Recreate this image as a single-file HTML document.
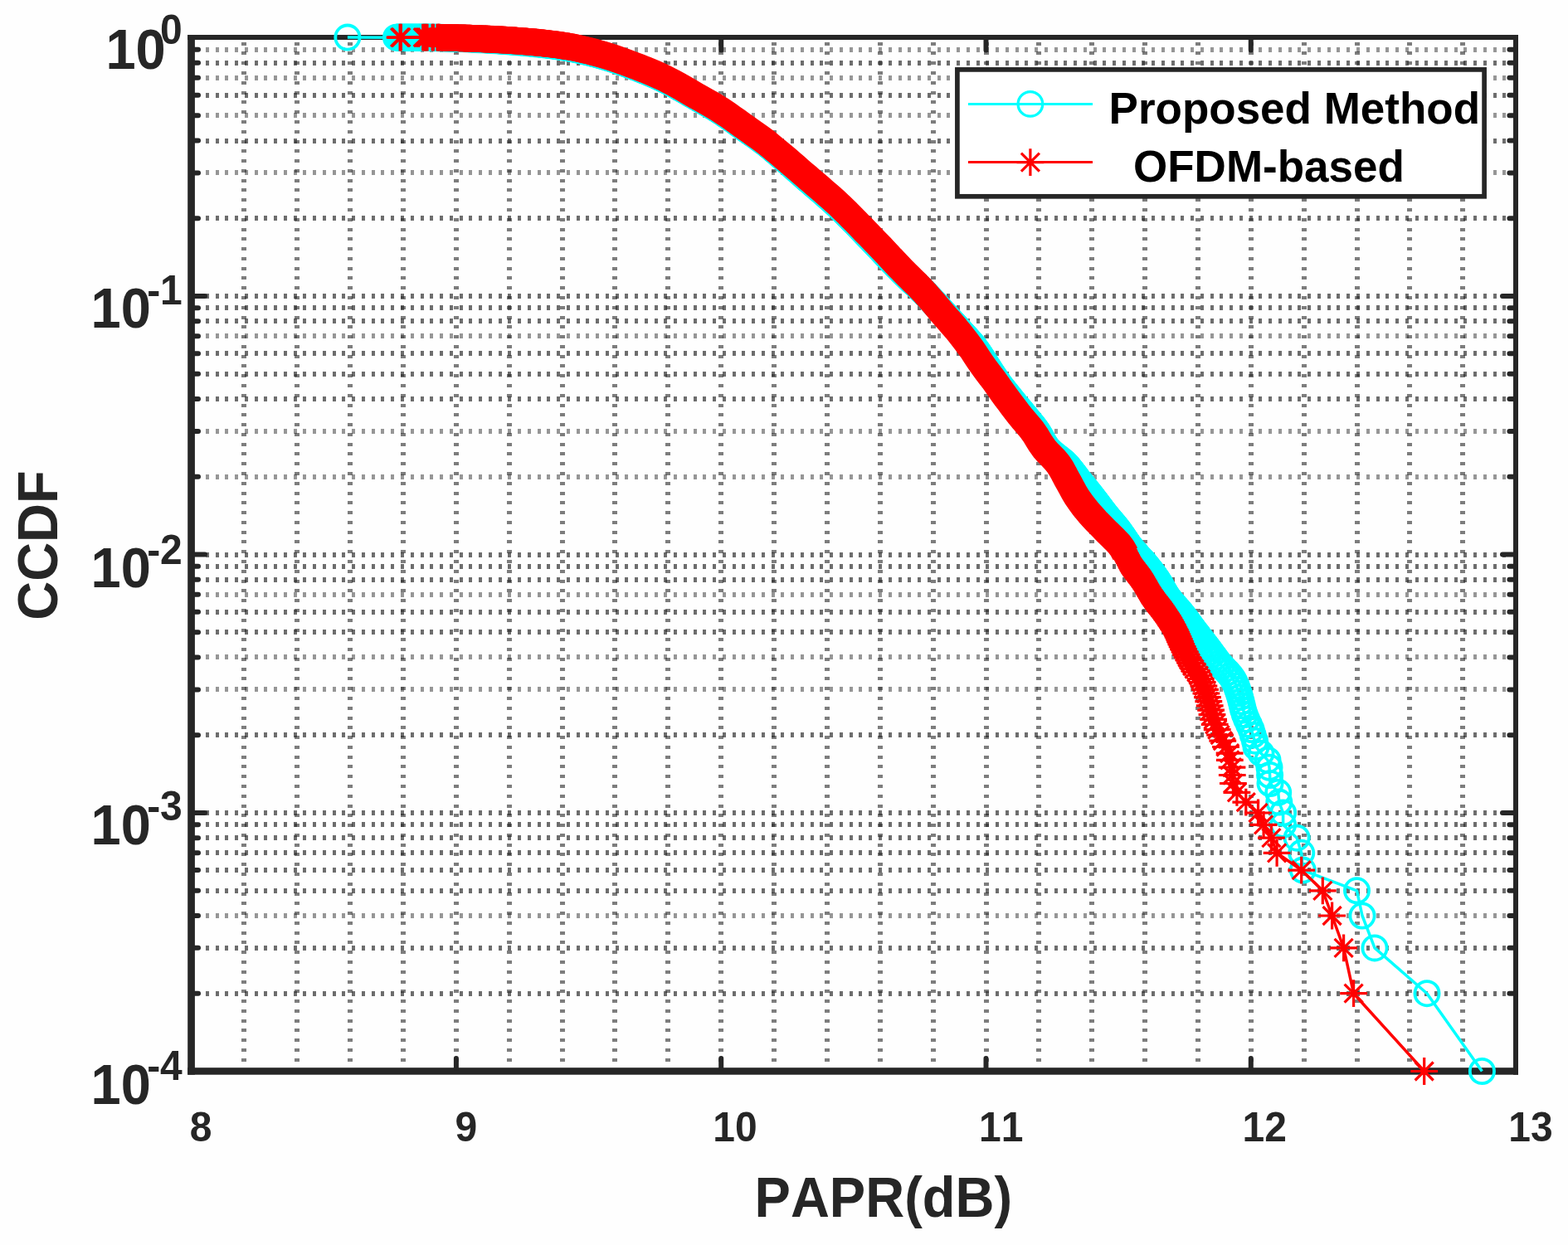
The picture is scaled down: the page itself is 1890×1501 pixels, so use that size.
<!DOCTYPE html>
<html lang="en"><head><meta charset="utf-8"><title>CCDF of PAPR</title>
<style>html,body{margin:0;padding:0;background:#fff;overflow:hidden}svg{display:block}text{font-family:"Liberation Sans",Arial,Helvetica,sans-serif;font-weight:bold;font-kerning:none}</style></head>
<body>
<svg width="1890" height="1501" viewBox="0 0 1890 1501">
<rect width="1890" height="1501" fill="#fefefe"/>
<g stroke="#262626" stroke-opacity="0.67" stroke-width="6" fill="none" shape-rendering="crispEdges">
<path d="M247.9 357.07H1822M247.9 263.31H1822M247.9 169.55H1822M247.9 114.70H1822M247.9 75.78H1822M247.9 668.54H1822M247.9 481.02H1822M247.9 450.83H1822M247.9 426.17H1822M247.9 387.25H1822M247.9 371.32H1822M247.9 980.01H1822M247.9 886.25H1822M247.9 762.30H1822M247.9 737.64H1822M247.9 698.72H1822M247.9 682.79H1822M247.9 1197.72H1822M247.9 1142.87H1822M247.9 1073.77H1822M247.9 1049.11H1822M247.9 1028.26H1822M247.9 1010.19H1822M247.9 994.26H1822" stroke-dasharray="4 7.755"/>
<path d="M247.9 208.46H1822M247.9 139.36H1822M247.9 93.85H1822M247.9 59.85H1822M247.9 574.78H1822M247.9 519.93H1822M247.9 405.32H1822M247.9 831.40H1822M247.9 792.49H1822M247.9 716.79H1822M247.9 1103.96H1822" stroke-dasharray="4 7.755" stroke-opacity="0.48"/>
<path d="M294.46 50.7V1286M358.32 50.7V1286M422.18 50.7V1286M486.04 50.7V1286M549.90 50.7V1286M613.76 50.7V1286M677.62 50.7V1286M741.48 50.7V1286M805.34 50.7V1286M869.20 50.7V1286M933.06 50.7V1286M996.92 50.7V1286M1060.78 50.7V1286M1124.64 50.7V1286M1188.50 50.7V1286M1252.36 50.7V1286M1316.22 50.7V1286M1380.08 50.7V1286M1443.94 50.7V1286M1507.80 50.7V1286M1571.66 50.7V1286M1635.52 50.7V1286M1699.38 50.7V1286M1763.24 50.7V1286" stroke-dasharray="4 7.78" stroke-opacity="0.6"/>
</g>
<g fill="#262626" stroke="none">
<rect x="226.2" y="42" width="8.7" height="1253.7"/>
<rect x="226.2" y="1287.2" width="1603.8" height="8.5"/>
<rect x="226.2" y="42" width="1603.8" height="6"/>
<rect x="1824" y="42" width="6" height="1253.7"/>
</g>
<g stroke="#262626" stroke-width="6" stroke-linecap="round" fill="none">
<path d="M549.90 1288V1276M549.90 48V60.5M869.20 1288V1276M869.20 48V60.5M1188.50 1288V1276M1188.50 48V60.5M1507.80 1288V1276M1507.80 48V60.5M234 357.07H247M1825 357.07H1811M234 263.31H239M1825 263.31H1819.4M234 208.46H239M1825 208.46H1819.4M234 169.55H239M1825 169.55H1819.4M234 139.36H239M1825 139.36H1819.4M234 114.70H239M1825 114.70H1819.4M234 93.85H239M1825 93.85H1819.4M234 75.78H239M1825 75.78H1819.4M234 59.85H239M1825 59.85H1819.4M234 668.54H247M1825 668.54H1811M234 574.78H239M1825 574.78H1819.4M234 519.93H239M1825 519.93H1819.4M234 481.02H239M1825 481.02H1819.4M234 450.83H239M1825 450.83H1819.4M234 426.17H239M1825 426.17H1819.4M234 405.32H239M1825 405.32H1819.4M234 387.25H239M1825 387.25H1819.4M234 371.32H239M1825 371.32H1819.4M234 980.01H247M1825 980.01H1811M234 886.25H239M1825 886.25H1819.4M234 831.40H239M1825 831.40H1819.4M234 792.49H239M1825 792.49H1819.4M234 762.30H239M1825 762.30H1819.4M234 737.64H239M1825 737.64H1819.4M234 716.79H239M1825 716.79H1819.4M234 698.72H239M1825 698.72H1819.4M234 682.79H239M1825 682.79H1819.4M234 1197.72H239M1825 1197.72H1819.4M234 1142.87H239M1825 1142.87H1819.4M234 1103.96H239M1825 1103.96H1819.4M234 1073.77H239M1825 1073.77H1819.4M234 1049.11H239M1825 1049.11H1819.4M234 1028.26H239M1825 1028.26H1819.4M234 1010.19H239M1825 1010.19H1819.4M234 994.26H239M1825 994.26H1819.4"/>
</g>
<defs><circle id="o" r="14.6" fill="none" stroke="#0ff" stroke-width="3.8"/><path id="a" d="M-16.4 0h32.8M0-16.4v32.8M-11-11l22 22M-11 11l22-22" fill="none" stroke="#f00" stroke-width="3.2"/></defs>
<g fill="none" stroke="#0ff" stroke-linejoin="round">
<path d="M477.5 45.2 483.9 45.2 490.3 45.2 496.7 45.2 503.1 45.3 509.5 45.3 515.9 45.3 522.3 45.4 528.7 45.5 535.1 45.7 541.5 45.9 547.9 46.1 554.3 46.3 560.7 46.5 567.1 46.8 573.5 47.1 579.9 47.4 586.2 47.8 592.6 48.2 599 48.6 605.4 49.1 611.8 49.5 618.2 50 624.6 50.5 630.9 51 637.3 51.5 643.7 52.2 650 52.8 656.4 53.5 662.8 54.3 669.1 55.1 675.4 56 681.8 57 688.1 58.1 694.4 59.3 700.6 60.7 706.8 62.2 713 63.7 719.2 65.3 725.4 67 731.6 68.8 737.7 70.7 743.7 72.7 749.8 74.8 755.8 77 761.8 79.2 767.8 81.4 773.8 83.8 779.7 86.2 785.6 88.7 791.5 91.2 797.3 93.9 803 96.7 808.7 99.6 814.4 102.6 820 105.8 825.5 108.9 831 112.1 836.6 115.4 842.2 118.5 847.7 121.7 853.3 124.8 858.8 128 864.3 131.3 869.7 134.7 875 138.3 880.3 141.9 885.5 145.6 890.7 149.4 895.9 153.1 901.1 156.8 906.4 160.5 911.7 164.1 916.9 167.9 922 171.7 927 175.7 931.9 179.7 936.8 183.8 941.7 188 946.5 192.2 951.3 196.4 956.1 200.7 960.9 205 965.7 209.2 970.5 213.5 975.3 217.7 980.1 221.8 985 226 989.9 230.1 994.7 234.3 999.5 238.5 1004.3 242.8 1009 247.1 1013.7 251.5 1018.3 256 1022.8 260.5 1027.3 265 1031.8 269.6 1036.2 274.2 1040.7 278.8 1045.1 283.4 1049.6 288 1054 292.6 1058.4 297.3 1062.8 301.9 1067.2 306.6 1071.6 311.2 1076 315.8 1080.5 320.4 1085 325 1089.5 329.5 1094.1 334 1098.8 338.3 1103.6 342.6 1108.3 346.9 1112.9 351.4 1117.3 356 1121.7 360.6 1126.1 365.3 1130.4 370 1134.7 374.8 1139 379.5 1143.4 384.2 1147.8 388.9 1152.1 393.5 1156.4 398.3 1160.7 403 1165.1 407.7 1169.3 412.5 1173.5 417.4 1177.3 422.5 1180.9 427.8 1184.4 433.2 1187.8 438.5 1191.3 443.9 1194.8 449.3 1198.3 454.6 1201.9 459.9 1205.7 465.1 1209.6 470.1 1213.6 475.1 1217.6 480.1 1221.7 485.1 1225.7 490 1229.8 494.9 1233.9 499.9 1238 504.8 1242.1 509.7 1246.1 514.7 1249.9 519.9 1253.2 525.3 1256.3 531 1259.5 536.5 1263.4 541.6 1268 546 1273 550 1278 553.9 1282.9 558.1 1287.3 562.7 1291.3 567.7 1295.2 572.8 1299.1 577.9 1303.1 582.9 1307.1 587.8 1311.1 592.8 1315.1 597.8 1319 602.9 1322.9 608 1326.7 613.1 1330.6 618.2 1334.6 623.2 1338.7 628.1 1342.9 633 1346.9 637.9 1350.7 643.1 1354.3 648.4 1357.9 653.7 1361.6 658.9 1365.7 663.8 1370 668.5 1370 668.5" stroke-width="33.6"/>
<path d="M418.9 45.1 477.5 45.2 482.3 45.2 487.1 45.2 491.9 45.2 496.7 45.2 501.5 45.3 506.3 45.3 511.1 45.3 515.9 45.3 520.7 45.4 525.5 45.5 530.3 45.6 535.1 45.7 539.9 45.8 544.7 46 549.5 46.1 554.3 46.3 559.1 46.5 563.9 46.6 568.7 46.9 573.5 47.1 578.3 47.4 583.1 47.6 587.8 47.9 592.6 48.2 597.4 48.5 602.2 48.8 607 49.2 611.8 49.5 616.6 49.8 621.4 50.2 626.2 50.6 630.9 51 635.7 51.4 640.5 51.8 645.3 52.3 650 52.8 654.8 53.3 659.6 53.9 664.4 54.5 669.1 55.1 673.9 55.8 678.6 56.5 683.3 57.3 688.1 58.1 692.8 59 697.5 60 702.2 61.1 706.8 62.2 711.5 63.3 716.1 64.5 720.8 65.7 725.4 67 730 68.3 734.6 69.7 739.2 71.2 743.7 72.7 748.3 74.3 752.8 75.9 757.3 77.5 761.8 79.2 766.3 80.9 770.8 82.6 775.3 84.4 779.7 86.2 784.1 88 788.5 89.9 792.9 91.9 797.3 93.9 801.6 96 805.9 98.1 810.2 100.3 814.4 102.6 818.6 105 822.7 107.3 826.9 109.7 831 112.1 835.2 114.6 839.4 116.9 843.5 119.3 847.7 121.7 851.9 124 856.1 126.4 860.2 128.8 864.3 131.3 868.4 133.9 872.4 136.5 876.4 139.2 880.3 141.9 884.2 144.7 888.1 147.5 892 150.3 895.9 153.1 899.8 155.9 903.8 158.6 907.7 161.4 911.7 164.1 915.6 166.9 919.4 169.8 923.2 172.7 927 175.7 930.7 178.7 934.4 181.8 938.1 184.9 941.7 188 945.3 191.2 948.9 194.3 952.5 197.5 956.1 200.7 959.7 203.9 963.3 207.1 966.9 210.3 970.5 213.5 974.1 216.6 977.7 219.7 981.4 222.9 985 226 988.6 229.1 992.3 232.2 995.9 235.4 999.5 238.5 1003.1 241.7 1006.7 245 1010.2 248.2 1013.7 251.5 1017.1 254.9 1020.5 258.2 1023.9 261.6 1027.3 265 1030.7 268.5 1034 271.9 1037.3 275.4 1040.7 278.8 1044 282.3 1047.3 285.7 1050.7 289.2 1054 292.6 1057.3 296.1 1060.6 299.6 1063.9 303.1 1067.2 306.6 1070.5 310 1073.8 313.5 1077.2 317 1080.5 320.4 1083.8 323.9 1087.2 327.3 1090.7 330.6 1094.1 334 1097.7 337.2 1101.2 340.4 1104.8 343.7 1108.3 346.9 1111.7 350.2 1115.1 353.7 1118.5 357.1 1121.7 360.6 1125 364.1 1128.2 367.7 1131.5 371.2 1134.7 374.8 1137.9 378.3 1141.2 381.8 1144.5 385.3 1147.8 388.9 1151 392.4 1154.3 395.9 1157.5 399.5 1160.7 403 1164 406.5 1167.2 410.1 1170.4 413.7 1173.5 417.4 1176.4 421.2 1179.2 425.1 1181.8 429.1 1184.4 433.2 1187 437.2 1189.6 441.2 1192.2 445.2 1194.8 449.3 1197.4 453.3 1200.1 457.3 1202.9 461.2 1205.7 465.1 1208.7 468.9 1211.6 472.6 1214.6 476.4 1217.6 480.1 1220.6 483.9 1223.7 487.6 1226.8 491.3 1229.8 494.9 1232.9 498.6 1235.9 502.4 1239 506 1242.1 509.7 1245.1 513.5 1248 517.3 1250.8 521.2 1253.2 525.3 1255.5 529.5 1257.8 533.8 1260.4 537.8 1263.4 541.6 1266.8 544.9 1270.4 548 1274.2 551 1278 553.9 1281.7 557 1285.1 560.4 1288.3 564 1291.3 567.7 1294.3 571.5 1297.2 575.3 1300.1 579.1 1303.1 582.9 1306.1 586.6 1309.1 590.3 1312.1 594.1 1315.1 597.8 1318.1 601.6 1321 605.5 1323.8 609.3 1326.7 613.1 1329.6 617 1332.6 620.7 1335.6 624.4 1338.7 628.1 1341.8 631.8 1344.9 635.5 1347.9 639.2 1350.7 643.1 1353.5 647 1356.1 651 1358.8 655 1361.6 658.9 1364.7 662.6 1367.8 666.2 1370 668.5 1370 668.5 1371.3 669.9 1372.6 671.3 1373.9 672.7 1375.3 674.1 1376.6 675.5 1377.9 676.9 1379.1 678.4 1380.4 679.8 1381.6 681.3 1382.8 682.8 1384 684.3 1385.2 685.8 1386.4 687.4 1387.6 688.9 1388.8 690.5 1390 692.1 1391.1 693.7 1392.3 695.4 1393.5 697 1394.6 698.7 1395.8 700.4 1396.9 702.1 1397.9 703.9 1399 705.7 1400 707.5 1401 709.3 1402 711.1 1403.1 713 1404.2 714.9 1405.4 716.8 1406.6 718.7 1408 720.7 1409.5 722.7 1411.2 724.7 1412.9 726.8 1414.8 728.9 1416.7 731 1418.7 733.2 1420.6 735.4 1422.6 737.6 1424.4 739.9 1426.2 742.2 1428.1 744.6 1429.8 747 1431.7 749.4 1433.5 751.9 1435.3 754.4 1437.2 757 1439.2 759.6 1441.3 762.3 1443.4 765 1445.6 767.8 1447.8 770.7 1450 773.6 1452.4 776.6 1454.7 779.6 1457 782.7 1459.4 785.9 1461.8 789.1 1464.3 792.5 1466.8 795.9 1469.5 799.4 1472.6 803 1476.1 806.7 1479.8 810.5 1483.2 814.5 1486.1 818.5 1488.3 822.7 1490.2 827 1491.8 831.4 1493.3 836 1494.8 840.7 1496.1 845.7 1497.3 850.8 1498.6 856.1 1500.4 861.6 1502.7 867.3 1505.5 873.4 1508.2 879.6 1510.3 886.2 1512.5 893.2 1514 900.5 1520 908.2 1528 916.4 1530 925.2 1530.6 934.5 1531 944.5 1540.7 955.3 1541.8 967.1 1546.6 980 1546.6 994.3 1563.1 1010.2 1568.7 1028.3 1570.3 1049.1 1635.5 1073.8 1642 1104 1657 1142.9 1720 1197.7 1786.4 1291.5" stroke-width="3.5"/>
</g>
<g><use href="#o" x="418.9" y="45.1"/><use href="#o" x="477.5" y="45.2"/><use href="#o" x="479.1" y="45.2"/><use href="#o" x="480.7" y="45.2"/><use href="#o" x="482.3" y="45.2"/><use href="#o" x="483.9" y="45.2"/><use href="#o" x="485.5" y="45.2"/><use href="#o" x="487.1" y="45.2"/><use href="#o" x="488.7" y="45.2"/><use href="#o" x="490.3" y="45.2"/><use href="#o" x="491.9" y="45.2"/><use href="#o" x="493.5" y="45.2"/><use href="#o" x="495.1" y="45.2"/><use href="#o" x="496.7" y="45.2"/><use href="#o" x="498.3" y="45.2"/><use href="#o" x="499.9" y="45.2"/><use href="#o" x="501.5" y="45.3"/><use href="#o" x="503.1" y="45.3"/><use href="#o" x="504.7" y="45.3"/><use href="#o" x="506.3" y="45.3"/><use href="#o" x="507.9" y="45.3"/><use href="#o" x="509.5" y="45.3"/><use href="#o" x="511.1" y="45.3"/><use href="#o" x="512.7" y="45.3"/><use href="#o" x="514.3" y="45.3"/><use href="#o" x="515.9" y="45.3"/><use href="#o" x="517.5" y="45.3"/><use href="#o" x="519.1" y="45.4"/><use href="#o" x="520.7" y="45.4"/><use href="#o" x="522.3" y="45.4"/><use href="#o" x="523.9" y="45.4"/><use href="#o" x="525.5" y="45.5"/><use href="#o" x="527.1" y="45.5"/><use href="#o" x="528.7" y="45.5"/><use href="#o" x="530.3" y="45.6"/><use href="#o" x="531.9" y="45.6"/><use href="#o" x="533.5" y="45.7"/><use href="#o" x="535.1" y="45.7"/><use href="#o" x="536.7" y="45.7"/><use href="#o" x="538.3" y="45.8"/><use href="#o" x="539.9" y="45.8"/><use href="#o" x="541.5" y="45.9"/><use href="#o" x="543.1" y="45.9"/><use href="#o" x="544.7" y="46"/><use href="#o" x="546.3" y="46"/><use href="#o" x="547.9" y="46.1"/><use href="#o" x="549.5" y="46.1"/><use href="#o" x="551.1" y="46.2"/><use href="#o" x="552.7" y="46.2"/><use href="#o" x="554.3" y="46.3"/><use href="#o" x="555.9" y="46.4"/><use href="#o" x="557.5" y="46.4"/><use href="#o" x="559.1" y="46.5"/><use href="#o" x="560.7" y="46.5"/><use href="#o" x="562.3" y="46.6"/><use href="#o" x="563.9" y="46.6"/><use href="#o" x="565.5" y="46.7"/><use href="#o" x="567.1" y="46.8"/><use href="#o" x="568.7" y="46.9"/><use href="#o" x="570.3" y="46.9"/><use href="#o" x="571.9" y="47"/><use href="#o" x="573.5" y="47.1"/><use href="#o" x="575.1" y="47.2"/><use href="#o" x="576.7" y="47.3"/><use href="#o" x="578.3" y="47.4"/><use href="#o" x="579.9" y="47.4"/><use href="#o" x="581.5" y="47.5"/><use href="#o" x="583.1" y="47.6"/><use href="#o" x="584.7" y="47.7"/><use href="#o" x="586.2" y="47.8"/><use href="#o" x="587.8" y="47.9"/><use href="#o" x="589.4" y="48"/><use href="#o" x="591" y="48.1"/><use href="#o" x="592.6" y="48.2"/><use href="#o" x="594.2" y="48.3"/><use href="#o" x="595.8" y="48.4"/><use href="#o" x="597.4" y="48.5"/><use href="#o" x="599" y="48.6"/><use href="#o" x="600.6" y="48.7"/><use href="#o" x="602.2" y="48.8"/><use href="#o" x="603.8" y="48.9"/><use href="#o" x="605.4" y="49.1"/><use href="#o" x="607" y="49.2"/><use href="#o" x="608.6" y="49.3"/><use href="#o" x="610.2" y="49.4"/><use href="#o" x="611.8" y="49.5"/><use href="#o" x="613.4" y="49.6"/><use href="#o" x="615" y="49.7"/><use href="#o" x="616.6" y="49.8"/><use href="#o" x="618.2" y="50"/><use href="#o" x="619.8" y="50.1"/><use href="#o" x="621.4" y="50.2"/><use href="#o" x="623" y="50.3"/><use href="#o" x="624.6" y="50.5"/><use href="#o" x="626.2" y="50.6"/><use href="#o" x="627.7" y="50.7"/><use href="#o" x="629.3" y="50.8"/><use href="#o" x="630.9" y="51"/><use href="#o" x="632.5" y="51.1"/><use href="#o" x="634.1" y="51.3"/><use href="#o" x="635.7" y="51.4"/><use href="#o" x="637.3" y="51.5"/><use href="#o" x="638.9" y="51.7"/><use href="#o" x="640.5" y="51.8"/><use href="#o" x="642.1" y="52"/><use href="#o" x="643.7" y="52.2"/><use href="#o" x="645.3" y="52.3"/><use href="#o" x="646.9" y="52.5"/><use href="#o" x="648.5" y="52.6"/><use href="#o" x="650" y="52.8"/><use href="#o" x="651.6" y="53"/><use href="#o" x="653.2" y="53.2"/><use href="#o" x="654.8" y="53.3"/><use href="#o" x="656.4" y="53.5"/><use href="#o" x="658" y="53.7"/><use href="#o" x="659.6" y="53.9"/><use href="#o" x="661.2" y="54.1"/><use href="#o" x="662.8" y="54.3"/><use href="#o" x="664.4" y="54.5"/><use href="#o" x="665.9" y="54.7"/><use href="#o" x="667.5" y="54.9"/><use href="#o" x="669.1" y="55.1"/><use href="#o" x="670.7" y="55.3"/><use href="#o" x="672.3" y="55.5"/><use href="#o" x="673.9" y="55.8"/><use href="#o" x="675.4" y="56"/><use href="#o" x="677" y="56.2"/><use href="#o" x="678.6" y="56.5"/><use href="#o" x="680.2" y="56.7"/><use href="#o" x="681.8" y="57"/><use href="#o" x="683.3" y="57.3"/><use href="#o" x="684.9" y="57.5"/><use href="#o" x="686.5" y="57.8"/><use href="#o" x="688.1" y="58.1"/><use href="#o" x="689.6" y="58.4"/><use href="#o" x="691.2" y="58.7"/><use href="#o" x="692.8" y="59"/><use href="#o" x="694.4" y="59.3"/><use href="#o" x="695.9" y="59.7"/><use href="#o" x="697.5" y="60"/><use href="#o" x="699" y="60.4"/><use href="#o" x="700.6" y="60.7"/><use href="#o" x="702.2" y="61.1"/><use href="#o" x="703.7" y="61.4"/><use href="#o" x="705.3" y="61.8"/><use href="#o" x="706.8" y="62.2"/><use href="#o" x="708.4" y="62.5"/><use href="#o" x="709.9" y="62.9"/><use href="#o" x="711.5" y="63.3"/><use href="#o" x="713" y="63.7"/><use href="#o" x="714.6" y="64.1"/><use href="#o" x="716.1" y="64.5"/><use href="#o" x="717.7" y="64.9"/><use href="#o" x="719.2" y="65.3"/><use href="#o" x="720.8" y="65.7"/><use href="#o" x="722.3" y="66.1"/><use href="#o" x="723.9" y="66.6"/><use href="#o" x="725.4" y="67"/><use href="#o" x="727" y="67.4"/><use href="#o" x="728.5" y="67.9"/><use href="#o" x="730" y="68.3"/><use href="#o" x="731.6" y="68.8"/><use href="#o" x="733.1" y="69.3"/><use href="#o" x="734.6" y="69.7"/><use href="#o" x="736.1" y="70.2"/><use href="#o" x="737.7" y="70.7"/><use href="#o" x="739.2" y="71.2"/><use href="#o" x="740.7" y="71.7"/><use href="#o" x="742.2" y="72.2"/><use href="#o" x="743.7" y="72.7"/><use href="#o" x="745.3" y="73.3"/><use href="#o" x="746.8" y="73.8"/><use href="#o" x="748.3" y="74.3"/><use href="#o" x="749.8" y="74.8"/><use href="#o" x="751.3" y="75.4"/><use href="#o" x="752.8" y="75.9"/><use href="#o" x="754.3" y="76.4"/><use href="#o" x="755.8" y="77"/><use href="#o" x="757.3" y="77.5"/><use href="#o" x="758.8" y="78.1"/><use href="#o" x="760.3" y="78.6"/><use href="#o" x="761.8" y="79.2"/><use href="#o" x="763.3" y="79.7"/><use href="#o" x="764.8" y="80.3"/><use href="#o" x="766.3" y="80.9"/><use href="#o" x="767.8" y="81.4"/><use href="#o" x="769.3" y="82"/><use href="#o" x="770.8" y="82.6"/><use href="#o" x="772.3" y="83.2"/><use href="#o" x="773.8" y="83.8"/><use href="#o" x="775.3" y="84.4"/><use href="#o" x="776.7" y="85"/><use href="#o" x="778.2" y="85.6"/><use href="#o" x="779.7" y="86.2"/><use href="#o" x="781.2" y="86.8"/><use href="#o" x="782.7" y="87.4"/><use href="#o" x="784.1" y="88"/><use href="#o" x="785.6" y="88.7"/><use href="#o" x="787.1" y="89.3"/><use href="#o" x="788.5" y="89.9"/><use href="#o" x="790" y="90.6"/><use href="#o" x="791.5" y="91.2"/><use href="#o" x="792.9" y="91.9"/><use href="#o" x="794.4" y="92.6"/><use href="#o" x="795.8" y="93.2"/><use href="#o" x="797.3" y="93.9"/><use href="#o" x="798.7" y="94.6"/><use href="#o" x="800.2" y="95.3"/><use href="#o" x="801.6" y="96"/><use href="#o" x="803" y="96.7"/><use href="#o" x="804.5" y="97.4"/><use href="#o" x="805.9" y="98.1"/><use href="#o" x="807.3" y="98.9"/><use href="#o" x="808.7" y="99.6"/><use href="#o" x="810.2" y="100.3"/><use href="#o" x="811.6" y="101.1"/><use href="#o" x="813" y="101.9"/><use href="#o" x="814.4" y="102.6"/><use href="#o" x="815.8" y="103.4"/><use href="#o" x="817.2" y="104.2"/><use href="#o" x="818.6" y="105"/><use href="#o" x="820" y="105.8"/><use href="#o" x="821.3" y="106.6"/><use href="#o" x="822.7" y="107.3"/><use href="#o" x="824.1" y="108.1"/><use href="#o" x="825.5" y="108.9"/><use href="#o" x="826.9" y="109.7"/><use href="#o" x="828.3" y="110.5"/><use href="#o" x="829.7" y="111.3"/><use href="#o" x="831" y="112.1"/><use href="#o" x="832.4" y="113"/><use href="#o" x="833.8" y="113.8"/><use href="#o" x="835.2" y="114.6"/><use href="#o" x="836.6" y="115.4"/><use href="#o" x="838" y="116.1"/><use href="#o" x="839.4" y="116.9"/><use href="#o" x="840.8" y="117.7"/><use href="#o" x="842.2" y="118.5"/><use href="#o" x="843.5" y="119.3"/><use href="#o" x="844.9" y="120.1"/><use href="#o" x="846.3" y="120.9"/><use href="#o" x="847.7" y="121.7"/><use href="#o" x="849.1" y="122.4"/><use href="#o" x="850.5" y="123.2"/><use href="#o" x="851.9" y="124"/><use href="#o" x="853.3" y="124.8"/><use href="#o" x="854.7" y="125.6"/><use href="#o" x="856.1" y="126.4"/><use href="#o" x="857.5" y="127.2"/><use href="#o" x="858.8" y="128"/><use href="#o" x="860.2" y="128.8"/><use href="#o" x="861.6" y="129.7"/><use href="#o" x="863" y="130.5"/><use href="#o" x="864.3" y="131.3"/><use href="#o" x="865.7" y="132.2"/><use href="#o" x="867" y="133"/><use href="#o" x="868.4" y="133.9"/><use href="#o" x="869.7" y="134.7"/><use href="#o" x="871.1" y="135.6"/><use href="#o" x="872.4" y="136.5"/><use href="#o" x="873.7" y="137.4"/><use href="#o" x="875" y="138.3"/><use href="#o" x="876.4" y="139.2"/><use href="#o" x="877.7" y="140.1"/><use href="#o" x="879" y="141"/><use href="#o" x="880.3" y="141.9"/><use href="#o" x="881.6" y="142.9"/><use href="#o" x="882.9" y="143.8"/><use href="#o" x="884.2" y="144.7"/><use href="#o" x="885.5" y="145.6"/><use href="#o" x="886.8" y="146.6"/><use href="#o" x="888.1" y="147.5"/><use href="#o" x="889.4" y="148.4"/><use href="#o" x="890.7" y="149.4"/><use href="#o" x="892" y="150.3"/><use href="#o" x="893.3" y="151.2"/><use href="#o" x="894.6" y="152.2"/><use href="#o" x="895.9" y="153.1"/><use href="#o" x="897.2" y="154"/><use href="#o" x="898.5" y="155"/><use href="#o" x="899.8" y="155.9"/><use href="#o" x="901.1" y="156.8"/><use href="#o" x="902.5" y="157.7"/><use href="#o" x="903.8" y="158.6"/><use href="#o" x="905.1" y="159.6"/><use href="#o" x="906.4" y="160.5"/><use href="#o" x="907.7" y="161.4"/><use href="#o" x="909" y="162.3"/><use href="#o" x="910.3" y="163.2"/><use href="#o" x="911.7" y="164.1"/><use href="#o" x="913" y="165.1"/><use href="#o" x="914.3" y="166"/><use href="#o" x="915.6" y="166.9"/><use href="#o" x="916.9" y="167.9"/><use href="#o" x="918.1" y="168.8"/><use href="#o" x="919.4" y="169.8"/><use href="#o" x="920.7" y="170.7"/><use href="#o" x="922" y="171.7"/><use href="#o" x="923.2" y="172.7"/><use href="#o" x="924.5" y="173.7"/><use href="#o" x="925.7" y="174.7"/><use href="#o" x="927" y="175.7"/><use href="#o" x="928.2" y="176.7"/><use href="#o" x="929.5" y="177.7"/><use href="#o" x="930.7" y="178.7"/><use href="#o" x="931.9" y="179.7"/><use href="#o" x="933.2" y="180.8"/><use href="#o" x="934.4" y="181.8"/><use href="#o" x="935.6" y="182.8"/><use href="#o" x="936.8" y="183.8"/><use href="#o" x="938.1" y="184.9"/><use href="#o" x="939.3" y="185.9"/><use href="#o" x="940.5" y="187"/><use href="#o" x="941.7" y="188"/><use href="#o" x="942.9" y="189.1"/><use href="#o" x="944.1" y="190.1"/><use href="#o" x="945.3" y="191.2"/><use href="#o" x="946.5" y="192.2"/><use href="#o" x="947.7" y="193.3"/><use href="#o" x="948.9" y="194.3"/><use href="#o" x="950.1" y="195.4"/><use href="#o" x="951.3" y="196.4"/><use href="#o" x="952.5" y="197.5"/><use href="#o" x="953.7" y="198.6"/><use href="#o" x="954.9" y="199.6"/><use href="#o" x="956.1" y="200.7"/><use href="#o" x="957.3" y="201.8"/><use href="#o" x="958.5" y="202.8"/><use href="#o" x="959.7" y="203.9"/><use href="#o" x="960.9" y="205"/><use href="#o" x="962.1" y="206"/><use href="#o" x="963.3" y="207.1"/><use href="#o" x="964.5" y="208.2"/><use href="#o" x="965.7" y="209.2"/><use href="#o" x="966.9" y="210.3"/><use href="#o" x="968.1" y="211.3"/><use href="#o" x="969.3" y="212.4"/><use href="#o" x="970.5" y="213.5"/><use href="#o" x="971.7" y="214.5"/><use href="#o" x="972.9" y="215.6"/><use href="#o" x="974.1" y="216.6"/><use href="#o" x="975.3" y="217.7"/><use href="#o" x="976.5" y="218.7"/><use href="#o" x="977.7" y="219.7"/><use href="#o" x="978.9" y="220.8"/><use href="#o" x="980.1" y="221.8"/><use href="#o" x="981.4" y="222.9"/><use href="#o" x="982.6" y="223.9"/><use href="#o" x="983.8" y="225"/><use href="#o" x="985" y="226"/><use href="#o" x="986.2" y="227"/><use href="#o" x="987.4" y="228.1"/><use href="#o" x="988.6" y="229.1"/><use href="#o" x="989.9" y="230.1"/><use href="#o" x="991.1" y="231.2"/><use href="#o" x="992.3" y="232.2"/><use href="#o" x="993.5" y="233.3"/><use href="#o" x="994.7" y="234.3"/><use href="#o" x="995.9" y="235.4"/><use href="#o" x="997.1" y="236.4"/><use href="#o" x="998.3" y="237.5"/><use href="#o" x="999.5" y="238.5"/><use href="#o" x="1000.7" y="239.6"/><use href="#o" x="1001.9" y="240.7"/><use href="#o" x="1003.1" y="241.7"/><use href="#o" x="1004.3" y="242.8"/><use href="#o" x="1005.5" y="243.9"/><use href="#o" x="1006.7" y="245"/><use href="#o" x="1007.9" y="246"/><use href="#o" x="1009" y="247.1"/><use href="#o" x="1010.2" y="248.2"/><use href="#o" x="1011.4" y="249.3"/><use href="#o" x="1012.5" y="250.4"/><use href="#o" x="1013.7" y="251.5"/><use href="#o" x="1014.8" y="252.6"/><use href="#o" x="1016" y="253.7"/><use href="#o" x="1017.1" y="254.9"/><use href="#o" x="1018.3" y="256"/><use href="#o" x="1019.4" y="257.1"/><use href="#o" x="1020.5" y="258.2"/><use href="#o" x="1021.7" y="259.4"/><use href="#o" x="1022.8" y="260.5"/><use href="#o" x="1023.9" y="261.6"/><use href="#o" x="1025.1" y="262.8"/><use href="#o" x="1026.2" y="263.9"/><use href="#o" x="1027.3" y="265"/><use href="#o" x="1028.4" y="266.2"/><use href="#o" x="1029.5" y="267.3"/><use href="#o" x="1030.7" y="268.5"/><use href="#o" x="1031.8" y="269.6"/><use href="#o" x="1032.9" y="270.8"/><use href="#o" x="1034" y="271.9"/><use href="#o" x="1035.1" y="273.1"/><use href="#o" x="1036.2" y="274.2"/><use href="#o" x="1037.3" y="275.4"/><use href="#o" x="1038.4" y="276.5"/><use href="#o" x="1039.6" y="277.7"/><use href="#o" x="1040.7" y="278.8"/><use href="#o" x="1041.8" y="280"/><use href="#o" x="1042.9" y="281.1"/><use href="#o" x="1044" y="282.3"/><use href="#o" x="1045.1" y="283.4"/><use href="#o" x="1046.2" y="284.6"/><use href="#o" x="1047.3" y="285.7"/><use href="#o" x="1048.4" y="286.9"/><use href="#o" x="1049.6" y="288"/><use href="#o" x="1050.7" y="289.2"/><use href="#o" x="1051.8" y="290.3"/><use href="#o" x="1052.9" y="291.5"/><use href="#o" x="1054" y="292.6"/><use href="#o" x="1055.1" y="293.8"/><use href="#o" x="1056.2" y="294.9"/><use href="#o" x="1057.3" y="296.1"/><use href="#o" x="1058.4" y="297.3"/><use href="#o" x="1059.5" y="298.4"/><use href="#o" x="1060.6" y="299.6"/><use href="#o" x="1061.7" y="300.7"/><use href="#o" x="1062.8" y="301.9"/><use href="#o" x="1063.9" y="303.1"/><use href="#o" x="1065" y="304.2"/><use href="#o" x="1066.1" y="305.4"/><use href="#o" x="1067.2" y="306.6"/><use href="#o" x="1068.3" y="307.7"/><use href="#o" x="1069.4" y="308.9"/><use href="#o" x="1070.5" y="310"/><use href="#o" x="1071.6" y="311.2"/><use href="#o" x="1072.7" y="312.4"/><use href="#o" x="1073.8" y="313.5"/><use href="#o" x="1074.9" y="314.7"/><use href="#o" x="1076" y="315.8"/><use href="#o" x="1077.2" y="317"/><use href="#o" x="1078.3" y="318.1"/><use href="#o" x="1079.4" y="319.3"/><use href="#o" x="1080.5" y="320.4"/><use href="#o" x="1081.6" y="321.6"/><use href="#o" x="1082.7" y="322.7"/><use href="#o" x="1083.8" y="323.9"/><use href="#o" x="1085" y="325"/><use href="#o" x="1086.1" y="326.1"/><use href="#o" x="1087.2" y="327.3"/><use href="#o" x="1088.4" y="328.4"/><use href="#o" x="1089.5" y="329.5"/><use href="#o" x="1090.7" y="330.6"/><use href="#o" x="1091.8" y="331.8"/><use href="#o" x="1093" y="332.9"/><use href="#o" x="1094.1" y="334"/><use href="#o" x="1095.3" y="335"/><use href="#o" x="1096.5" y="336.1"/><use href="#o" x="1097.7" y="337.2"/><use href="#o" x="1098.8" y="338.3"/><use href="#o" x="1100" y="339.4"/><use href="#o" x="1101.2" y="340.4"/><use href="#o" x="1102.4" y="341.5"/><use href="#o" x="1103.6" y="342.6"/><use href="#o" x="1104.8" y="343.7"/><use href="#o" x="1106" y="344.7"/><use href="#o" x="1107.1" y="345.8"/><use href="#o" x="1108.3" y="346.9"/><use href="#o" x="1109.5" y="348"/><use href="#o" x="1110.6" y="349.1"/><use href="#o" x="1111.7" y="350.2"/><use href="#o" x="1112.9" y="351.4"/><use href="#o" x="1114" y="352.5"/><use href="#o" x="1115.1" y="353.7"/><use href="#o" x="1116.2" y="354.8"/><use href="#o" x="1117.3" y="356"/><use href="#o" x="1118.5" y="357.1"/><use href="#o" x="1119.6" y="358.3"/><use href="#o" x="1120.7" y="359.4"/><use href="#o" x="1121.7" y="360.6"/><use href="#o" x="1122.8" y="361.8"/><use href="#o" x="1123.9" y="363"/><use href="#o" x="1125" y="364.1"/><use href="#o" x="1126.1" y="365.3"/><use href="#o" x="1127.2" y="366.5"/><use href="#o" x="1128.2" y="367.7"/><use href="#o" x="1129.3" y="368.9"/><use href="#o" x="1130.4" y="370"/><use href="#o" x="1131.5" y="371.2"/><use href="#o" x="1132.5" y="372.4"/><use href="#o" x="1133.6" y="373.6"/><use href="#o" x="1134.7" y="374.8"/><use href="#o" x="1135.8" y="376"/><use href="#o" x="1136.9" y="377.1"/><use href="#o" x="1137.9" y="378.3"/><use href="#o" x="1139" y="379.5"/><use href="#o" x="1140.1" y="380.7"/><use href="#o" x="1141.2" y="381.8"/><use href="#o" x="1142.3" y="383"/><use href="#o" x="1143.4" y="384.2"/><use href="#o" x="1144.5" y="385.3"/><use href="#o" x="1145.6" y="386.5"/><use href="#o" x="1146.7" y="387.7"/><use href="#o" x="1147.8" y="388.9"/><use href="#o" x="1148.8" y="390"/><use href="#o" x="1149.9" y="391.2"/><use href="#o" x="1151" y="392.4"/><use href="#o" x="1152.1" y="393.5"/><use href="#o" x="1153.2" y="394.7"/><use href="#o" x="1154.3" y="395.9"/><use href="#o" x="1155.4" y="397.1"/><use href="#o" x="1156.4" y="398.3"/><use href="#o" x="1157.5" y="399.5"/><use href="#o" x="1158.6" y="400.6"/><use href="#o" x="1159.7" y="401.8"/><use href="#o" x="1160.7" y="403"/><use href="#o" x="1161.8" y="404.2"/><use href="#o" x="1162.9" y="405.4"/><use href="#o" x="1164" y="406.5"/><use href="#o" x="1165.1" y="407.7"/><use href="#o" x="1166.1" y="408.9"/><use href="#o" x="1167.2" y="410.1"/><use href="#o" x="1168.3" y="411.3"/><use href="#o" x="1169.3" y="412.5"/><use href="#o" x="1170.4" y="413.7"/><use href="#o" x="1171.4" y="414.9"/><use href="#o" x="1172.4" y="416.1"/><use href="#o" x="1173.5" y="417.4"/><use href="#o" x="1174.4" y="418.6"/><use href="#o" x="1175.4" y="419.9"/><use href="#o" x="1176.4" y="421.2"/><use href="#o" x="1177.3" y="422.5"/><use href="#o" x="1178.2" y="423.8"/><use href="#o" x="1179.2" y="425.1"/><use href="#o" x="1180" y="426.4"/><use href="#o" x="1180.9" y="427.8"/><use href="#o" x="1181.8" y="429.1"/><use href="#o" x="1182.7" y="430.5"/><use href="#o" x="1183.5" y="431.8"/><use href="#o" x="1184.4" y="433.2"/><use href="#o" x="1185.2" y="434.5"/><use href="#o" x="1186.1" y="435.9"/><use href="#o" x="1187" y="437.2"/><use href="#o" x="1187.8" y="438.5"/><use href="#o" x="1188.7" y="439.9"/><use href="#o" x="1189.6" y="441.2"/><use href="#o" x="1190.5" y="442.6"/><use href="#o" x="1191.3" y="443.9"/><use href="#o" x="1192.2" y="445.2"/><use href="#o" x="1193.1" y="446.6"/><use href="#o" x="1193.9" y="447.9"/><use href="#o" x="1194.8" y="449.3"/><use href="#o" x="1195.7" y="450.6"/><use href="#o" x="1196.6" y="452"/><use href="#o" x="1197.4" y="453.3"/><use href="#o" x="1198.3" y="454.6"/><use href="#o" x="1199.2" y="456"/><use href="#o" x="1200.1" y="457.3"/><use href="#o" x="1201" y="458.6"/><use href="#o" x="1201.9" y="459.9"/><use href="#o" x="1202.9" y="461.2"/><use href="#o" x="1203.8" y="462.5"/><use href="#o" x="1204.8" y="463.8"/><use href="#o" x="1205.7" y="465.1"/><use href="#o" x="1206.7" y="466.3"/><use href="#o" x="1207.7" y="467.6"/><use href="#o" x="1208.7" y="468.9"/><use href="#o" x="1209.6" y="470.1"/><use href="#o" x="1210.6" y="471.4"/><use href="#o" x="1211.6" y="472.6"/><use href="#o" x="1212.6" y="473.9"/><use href="#o" x="1213.6" y="475.1"/><use href="#o" x="1214.6" y="476.4"/><use href="#o" x="1215.6" y="477.6"/><use href="#o" x="1216.6" y="478.9"/><use href="#o" x="1217.6" y="480.1"/><use href="#o" x="1218.6" y="481.4"/><use href="#o" x="1219.6" y="482.6"/><use href="#o" x="1220.6" y="483.9"/><use href="#o" x="1221.7" y="485.1"/><use href="#o" x="1222.7" y="486.3"/><use href="#o" x="1223.7" y="487.6"/><use href="#o" x="1224.7" y="488.8"/><use href="#o" x="1225.7" y="490"/><use href="#o" x="1226.8" y="491.3"/><use href="#o" x="1227.8" y="492.5"/><use href="#o" x="1228.8" y="493.7"/><use href="#o" x="1229.8" y="494.9"/><use href="#o" x="1230.9" y="496.2"/><use href="#o" x="1231.9" y="497.4"/><use href="#o" x="1232.9" y="498.6"/><use href="#o" x="1233.9" y="499.9"/><use href="#o" x="1234.9" y="501.1"/><use href="#o" x="1235.9" y="502.4"/><use href="#o" x="1237" y="503.6"/><use href="#o" x="1238" y="504.8"/><use href="#o" x="1239" y="506"/><use href="#o" x="1240" y="507.3"/><use href="#o" x="1241.1" y="508.5"/><use href="#o" x="1242.1" y="509.7"/><use href="#o" x="1243.1" y="511"/><use href="#o" x="1244.1" y="512.2"/><use href="#o" x="1245.1" y="513.5"/><use href="#o" x="1246.1" y="514.7"/><use href="#o" x="1247.1" y="516"/><use href="#o" x="1248" y="517.3"/><use href="#o" x="1249" y="518.6"/><use href="#o" x="1249.9" y="519.9"/><use href="#o" x="1250.8" y="521.2"/><use href="#o" x="1251.6" y="522.5"/><use href="#o" x="1252.5" y="523.9"/><use href="#o" x="1253.2" y="525.3"/><use href="#o" x="1254" y="526.7"/><use href="#o" x="1254.8" y="528.1"/><use href="#o" x="1255.5" y="529.5"/><use href="#o" x="1256.3" y="531"/><use href="#o" x="1257" y="532.4"/><use href="#o" x="1257.8" y="533.8"/><use href="#o" x="1258.6" y="535.1"/><use href="#o" x="1259.5" y="536.5"/><use href="#o" x="1260.4" y="537.8"/><use href="#o" x="1261.3" y="539.1"/><use href="#o" x="1262.3" y="540.4"/><use href="#o" x="1263.4" y="541.6"/><use href="#o" x="1264.5" y="542.7"/><use href="#o" x="1265.6" y="543.9"/><use href="#o" x="1266.8" y="544.9"/><use href="#o" x="1268" y="546"/><use href="#o" x="1269.2" y="547"/><use href="#o" x="1270.4" y="548"/><use href="#o" x="1271.7" y="549"/><use href="#o" x="1273" y="550"/><use href="#o" x="1274.2" y="551"/><use href="#o" x="1275.5" y="552"/><use href="#o" x="1276.8" y="552.9"/><use href="#o" x="1278" y="553.9"/><use href="#o" x="1279.3" y="554.9"/><use href="#o" x="1280.5" y="556"/><use href="#o" x="1281.7" y="557"/><use href="#o" x="1282.9" y="558.1"/><use href="#o" x="1284" y="559.2"/><use href="#o" x="1285.1" y="560.4"/><use href="#o" x="1286.2" y="561.5"/><use href="#o" x="1287.3" y="562.7"/><use href="#o" x="1288.3" y="564"/><use href="#o" x="1289.3" y="565.2"/><use href="#o" x="1290.4" y="566.4"/><use href="#o" x="1291.3" y="567.7"/><use href="#o" x="1292.3" y="568.9"/><use href="#o" x="1293.3" y="570.2"/><use href="#o" x="1294.3" y="571.5"/><use href="#o" x="1295.2" y="572.8"/><use href="#o" x="1296.2" y="574"/><use href="#o" x="1297.2" y="575.3"/><use href="#o" x="1298.1" y="576.6"/><use href="#o" x="1299.1" y="577.9"/><use href="#o" x="1300.1" y="579.1"/><use href="#o" x="1301.1" y="580.4"/><use href="#o" x="1302.1" y="581.6"/><use href="#o" x="1303.1" y="582.9"/><use href="#o" x="1304.1" y="584.1"/><use href="#o" x="1305.1" y="585.4"/><use href="#o" x="1306.1" y="586.6"/><use href="#o" x="1307.1" y="587.8"/><use href="#o" x="1308.1" y="589.1"/><use href="#o" x="1309.1" y="590.3"/><use href="#o" x="1310.1" y="591.6"/><use href="#o" x="1311.1" y="592.8"/><use href="#o" x="1312.1" y="594.1"/><use href="#o" x="1313.1" y="595.3"/><use href="#o" x="1314.1" y="596.6"/><use href="#o" x="1315.1" y="597.8"/><use href="#o" x="1316.1" y="599.1"/><use href="#o" x="1317.1" y="600.4"/><use href="#o" x="1318.1" y="601.6"/><use href="#o" x="1319" y="602.9"/><use href="#o" x="1320" y="604.2"/><use href="#o" x="1321" y="605.5"/><use href="#o" x="1321.9" y="606.7"/><use href="#o" x="1322.9" y="608"/><use href="#o" x="1323.8" y="609.3"/><use href="#o" x="1324.8" y="610.6"/><use href="#o" x="1325.8" y="611.9"/><use href="#o" x="1326.7" y="613.1"/><use href="#o" x="1327.7" y="614.4"/><use href="#o" x="1328.7" y="615.7"/><use href="#o" x="1329.6" y="617"/><use href="#o" x="1330.6" y="618.2"/><use href="#o" x="1331.6" y="619.5"/><use href="#o" x="1332.6" y="620.7"/><use href="#o" x="1333.6" y="622"/><use href="#o" x="1334.6" y="623.2"/><use href="#o" x="1335.6" y="624.4"/><use href="#o" x="1336.7" y="625.7"/><use href="#o" x="1337.7" y="626.9"/><use href="#o" x="1338.7" y="628.1"/><use href="#o" x="1339.8" y="629.3"/><use href="#o" x="1340.8" y="630.5"/><use href="#o" x="1341.8" y="631.8"/><use href="#o" x="1342.9" y="633"/><use href="#o" x="1343.9" y="634.2"/><use href="#o" x="1344.9" y="635.5"/><use href="#o" x="1345.9" y="636.7"/><use href="#o" x="1346.9" y="637.9"/><use href="#o" x="1347.9" y="639.2"/><use href="#o" x="1348.9" y="640.5"/><use href="#o" x="1349.8" y="641.8"/><use href="#o" x="1350.7" y="643.1"/><use href="#o" x="1351.7" y="644.4"/><use href="#o" x="1352.6" y="645.7"/><use href="#o" x="1353.5" y="647"/><use href="#o" x="1354.3" y="648.4"/><use href="#o" x="1355.2" y="649.7"/><use href="#o" x="1356.1" y="651"/><use href="#o" x="1357" y="652.4"/><use href="#o" x="1357.9" y="653.7"/><use href="#o" x="1358.8" y="655"/><use href="#o" x="1359.7" y="656.3"/><use href="#o" x="1360.7" y="657.6"/><use href="#o" x="1361.6" y="658.9"/><use href="#o" x="1362.6" y="660.1"/><use href="#o" x="1363.6" y="661.4"/><use href="#o" x="1364.7" y="662.6"/><use href="#o" x="1365.7" y="663.8"/><use href="#o" x="1366.8" y="665"/><use href="#o" x="1367.8" y="666.2"/><use href="#o" x="1368.9" y="667.4"/><use href="#o" x="1370" y="668.5"/><use href="#o" x="1370" y="668.5"/><use href="#o" x="1371.3" y="669.9"/><use href="#o" x="1372.6" y="671.3"/><use href="#o" x="1373.9" y="672.7"/><use href="#o" x="1375.3" y="674.1"/><use href="#o" x="1376.6" y="675.5"/><use href="#o" x="1377.9" y="676.9"/><use href="#o" x="1379.1" y="678.4"/><use href="#o" x="1380.4" y="679.8"/><use href="#o" x="1381.6" y="681.3"/><use href="#o" x="1382.8" y="682.8"/><use href="#o" x="1384" y="684.3"/><use href="#o" x="1385.2" y="685.8"/><use href="#o" x="1386.4" y="687.4"/><use href="#o" x="1387.6" y="688.9"/><use href="#o" x="1388.8" y="690.5"/><use href="#o" x="1390" y="692.1"/><use href="#o" x="1391.1" y="693.7"/><use href="#o" x="1392.3" y="695.4"/><use href="#o" x="1393.5" y="697"/><use href="#o" x="1394.6" y="698.7"/><use href="#o" x="1395.8" y="700.4"/><use href="#o" x="1396.9" y="702.1"/><use href="#o" x="1397.9" y="703.9"/><use href="#o" x="1399" y="705.7"/><use href="#o" x="1400" y="707.5"/><use href="#o" x="1401" y="709.3"/><use href="#o" x="1402" y="711.1"/><use href="#o" x="1403.1" y="713"/><use href="#o" x="1404.2" y="714.9"/><use href="#o" x="1405.4" y="716.8"/><use href="#o" x="1406.6" y="718.7"/><use href="#o" x="1408" y="720.7"/><use href="#o" x="1409.5" y="722.7"/><use href="#o" x="1411.2" y="724.7"/><use href="#o" x="1412.9" y="726.8"/><use href="#o" x="1414.8" y="728.9"/><use href="#o" x="1416.7" y="731"/><use href="#o" x="1418.7" y="733.2"/><use href="#o" x="1420.6" y="735.4"/><use href="#o" x="1422.6" y="737.6"/><use href="#o" x="1424.4" y="739.9"/><use href="#o" x="1426.2" y="742.2"/><use href="#o" x="1428.1" y="744.6"/><use href="#o" x="1429.8" y="747"/><use href="#o" x="1431.7" y="749.4"/><use href="#o" x="1433.5" y="751.9"/><use href="#o" x="1435.3" y="754.4"/><use href="#o" x="1437.2" y="757"/><use href="#o" x="1439.2" y="759.6"/><use href="#o" x="1441.3" y="762.3"/><use href="#o" x="1443.4" y="765"/><use href="#o" x="1445.6" y="767.8"/><use href="#o" x="1447.8" y="770.7"/><use href="#o" x="1450" y="773.6"/><use href="#o" x="1452.4" y="776.6"/><use href="#o" x="1454.7" y="779.6"/><use href="#o" x="1457" y="782.7"/><use href="#o" x="1459.4" y="785.9"/><use href="#o" x="1461.8" y="789.1"/><use href="#o" x="1464.3" y="792.5"/><use href="#o" x="1466.8" y="795.9"/><use href="#o" x="1469.5" y="799.4"/><use href="#o" x="1472.6" y="803"/><use href="#o" x="1476.1" y="806.7"/><use href="#o" x="1479.8" y="810.5"/><use href="#o" x="1483.2" y="814.5"/><use href="#o" x="1486.1" y="818.5"/><use href="#o" x="1488.3" y="822.7"/><use href="#o" x="1490.2" y="827"/><use href="#o" x="1491.8" y="831.4"/><use href="#o" x="1493.3" y="836"/><use href="#o" x="1494.8" y="840.7"/><use href="#o" x="1496.1" y="845.7"/><use href="#o" x="1497.3" y="850.8"/><use href="#o" x="1498.6" y="856.1"/><use href="#o" x="1500.4" y="861.6"/><use href="#o" x="1502.7" y="867.3"/><use href="#o" x="1505.5" y="873.4"/><use href="#o" x="1508.2" y="879.6"/><use href="#o" x="1510.3" y="886.2"/><use href="#o" x="1512.5" y="893.2"/><use href="#o" x="1514" y="900.5"/><use href="#o" x="1520" y="908.2"/><use href="#o" x="1528" y="916.4"/><use href="#o" x="1530" y="925.2"/><use href="#o" x="1530.6" y="934.5"/><use href="#o" x="1531" y="944.5"/><use href="#o" x="1540.7" y="955.3"/><use href="#o" x="1541.8" y="967.1"/><use href="#o" x="1546.6" y="980"/><use href="#o" x="1546.6" y="994.3"/><use href="#o" x="1563.1" y="1010.2"/><use href="#o" x="1568.7" y="1028.3"/><use href="#o" x="1570.3" y="1049.1"/><use href="#o" x="1635.5" y="1073.8"/><use href="#o" x="1642" y="1104"/><use href="#o" x="1657" y="1142.9"/><use href="#o" x="1720" y="1197.7"/><use href="#o" x="1786.4" y="1291.5"/></g>
<g fill="none" stroke="#f00" stroke-linejoin="round">
<path d="M532 45.3 538.4 45.4 544.8 45.6 551.2 45.7 557.6 45.9 564 46.1 570.4 46.4 576.8 46.6 583.2 46.9 589.6 47.2 596 47.5 602.4 47.8 608.7 48.2 615.1 48.6 621.5 49 627.9 49.5 634.3 50 640.7 50.6 647 51.1 653.4 51.8 659.8 52.5 666.1 53.3 672.5 54.1 678.8 55 685.1 56 691.4 57.2 697.7 58.5 703.9 59.9 710.1 61.4 716.3 63 722.5 64.7 728.7 66.5 734.8 68.4 740.8 70.4 746.9 72.5 752.9 74.7 758.9 76.9 764.9 79.1 770.9 81.4 776.8 83.7 782.8 86.2 788.7 88.7 794.5 91.3 800.3 93.9 806 96.8 811.7 99.8 817.3 102.9 822.9 106.1 828.4 109.3 833.9 112.5 839.5 115.7 845 118.8 850.6 122 856.2 125.1 861.7 128.4 867.2 131.7 872.5 135.2 877.8 138.8 883 142.5 888.2 146.2 893.4 150 898.6 153.7 903.9 157.4 909.1 161.1 914.3 164.7 919.5 168.5 924.6 172.4 929.5 176.5 934.5 180.6 939.4 184.6 944.3 188.8 949.2 192.9 954 197.1 958.9 201.3 963.7 205.5 968.5 209.6 973.4 213.8 978.2 218 983.1 222.1 988 226.3 992.8 230.5 997.7 234.7 1002.5 238.9 1007.2 243.2 1011.9 247.5 1016.5 252 1021.1 256.4 1025.6 261 1030.1 265.5 1034.6 270.1 1039.1 274.7 1043.5 279.3 1048 283.9 1052.4 288.5 1056.9 293.1 1061.3 297.7 1065.7 302.4 1070.1 307 1074.4 311.7 1078.8 316.3 1083.2 321 1087.7 325.6 1092.2 330.2 1096.7 334.7 1101.3 339.2 1105.8 343.6 1110.3 348.2 1114.7 352.9 1118.9 357.7 1123.1 362.5 1127.3 367.4 1131.4 372.3 1135.5 377.2 1139.7 382 1144 386.8 1148.2 391.6 1152.4 396.5 1156.4 401.4 1160.4 406.4 1164.3 411.5 1168.1 416.6 1171.9 421.8 1175.4 427.1 1178.9 432.5 1182.5 437.8 1186.2 443 1190 448.1 1193.9 453.2 1197.8 458.3 1201.5 463.5 1205.2 468.7 1208.9 474 1212.7 479.2 1216.5 484.3 1220.3 489.4 1224.2 494.5 1228.1 499.6 1232.1 504.5 1236.3 509.4 1240.5 514.3 1244.5 519.3 1248.1 524.5 1251.4 530 1254.8 535.4 1258.5 540.7 1262.7 545.5 1267.2 550 1271.6 554.6 1275.7 559.6 1279.2 565 1282.3 570.6 1285.2 576.2 1288.3 581.8 1291.4 587.5 1294.4 593.1 1297.7 598.6 1301.3 603.9 1305.1 609.1 1309 614.1 1313.1 619 1317.4 623.8 1321.7 628.5 1326.2 633 1330.7 637.6 1335.2 642.2 1339.8 646.6 1344.3 651.1 1348.7 655.8 1352.6 660.9 1355.7 666.5 1356.4 667.9" stroke-width="32.8"/>
<path d="M482.1 45.2 483.4 45.2 509.7 45.2 511.5 45.2 513.2 45.2 515 45.2 521.1 45.2 522.4 45.2 527 45.2 528.3 45.2 529.6 45.2 532 45.3 536.8 45.4 541.6 45.5 546.4 45.6 551.2 45.7 556 45.9 560.8 46 565.6 46.2 570.4 46.4 575.2 46.5 580 46.7 584.8 47 589.6 47.2 594.4 47.4 599.2 47.7 603.9 47.9 608.7 48.2 613.5 48.5 618.3 48.8 623.1 49.1 627.9 49.5 632.7 49.9 637.5 50.3 642.2 50.7 647 51.1 651.8 51.6 656.6 52.1 661.3 52.7 666.1 53.3 670.9 53.9 675.6 54.5 680.4 55.3 685.1 56 689.8 56.9 694.5 57.9 699.2 58.9 703.9 59.9 708.6 61.1 713.2 62.2 717.9 63.4 722.5 64.7 727.1 66 731.7 67.4 736.3 68.9 740.8 70.4 745.4 72 749.9 73.6 754.4 75.2 758.9 76.9 763.4 78.6 767.9 80.3 772.4 82 776.8 83.7 781.3 85.6 785.7 87.4 790.1 89.3 794.5 91.3 798.9 93.3 803.2 95.3 807.5 97.5 811.7 99.8 815.9 102.1 820.1 104.5 824.2 106.9 828.4 109.3 832.5 111.7 836.7 114.1 840.9 116.5 845 118.8 849.2 121.2 853.4 123.5 857.6 125.9 861.7 128.4 865.8 130.9 869.9 133.4 873.9 136.1 877.8 138.8 881.7 141.6 885.6 144.4 889.5 147.2 893.4 150 897.3 152.8 901.2 155.6 905.2 158.3 909.1 161.1 913 163.8 916.9 166.6 920.8 169.5 924.6 172.4 928.3 175.5 932 178.5 935.7 181.6 939.4 184.6 943.1 187.7 946.7 190.8 950.4 194 954 197.1 957.6 200.2 961.3 203.4 964.9 206.5 968.5 209.6 972.2 212.8 975.8 215.9 979.5 219 983.1 222.1 986.8 225.2 990.4 228.4 994 231.5 997.7 234.7 1001.3 237.8 1004.8 241 1008.4 244.3 1011.9 247.5 1015.4 250.9 1018.8 254.2 1022.2 257.6 1025.6 261 1029 264.4 1032.4 267.8 1035.7 271.2 1039.1 274.7 1042.4 278.1 1045.7 281.6 1049.1 285 1052.4 288.5 1055.8 291.9 1059.1 295.4 1062.4 298.9 1065.7 302.4 1069 305.9 1072.2 309.4 1075.5 312.9 1078.8 316.3 1082.1 319.8 1085.5 323.3 1088.8 326.7 1092.2 330.2 1095.6 333.6 1099 336.9 1102.4 340.3 1105.8 343.6 1109.2 347.1 1112.5 350.5 1115.7 354.1 1118.9 357.7 1122.1 361.3 1125.2 364.9 1128.3 368.6 1131.4 372.3 1134.5 375.9 1137.6 379.6 1140.8 383.2 1144 386.8 1147.1 390.4 1150.3 394 1153.4 397.7 1156.4 401.4 1159.4 405.1 1162.4 408.9 1165.3 412.8 1168.1 416.6 1171 420.5 1173.7 424.5 1176.3 428.5 1178.9 432.5 1181.6 436.5 1184.3 440.4 1187.1 444.3 1190 448.1 1192.9 452 1195.9 455.8 1198.7 459.6 1201.5 463.5 1204.3 467.4 1207.1 471.3 1209.9 475.3 1212.7 479.2 1215.5 483 1218.4 486.9 1221.3 490.7 1224.2 494.5 1227.1 498.3 1230.1 502.1 1233.2 505.8 1236.3 509.4 1239.5 513 1242.5 516.7 1245.4 520.6 1248.1 524.5 1250.6 528.6 1253.1 532.7 1255.7 536.8 1258.5 540.7 1261.6 544.3 1264.9 547.8 1268.3 551.2 1271.6 554.6 1274.7 558.3 1277.5 562.2 1280 566.4 1282.3 570.6 1284.5 574.8 1286.8 579 1289.1 583.2 1291.4 587.5 1293.7 591.7 1296 595.9 1298.6 599.9 1301.3 603.9 1304.1 607.8 1307 611.6 1310.1 615.3 1313.1 619 1316.3 622.6 1319.5 626.1 1322.9 629.6 1326.2 633 1329.6 636.5 1332.9 639.9 1336.3 643.3 1339.8 646.6 1343.2 650 1346.6 653.4 1349.7 657 1352.6 660.9 1355 665 1356.4 667.9 1356.7 668.5 1357.4 669.9 1358 671.3 1358.7 672.7 1359.3 674.1 1360 675.5 1360.8 676.9 1361.5 678.4 1362.4 679.8 1363.3 681.3 1364.3 682.8 1365.4 684.3 1366.5 685.8 1367.6 687.4 1368.8 688.9 1370 690.5 1371.3 692.1 1372.5 693.7 1373.7 695.4 1375 697 1376.1 698.7 1377.3 700.4 1378.4 702.1 1379.4 703.9 1380.5 705.7 1381.5 707.5 1382.6 709.3 1383.6 711.1 1384.7 713 1385.8 714.9 1386.9 716.8 1388.2 718.7 1389.5 720.7 1390.9 722.7 1392.4 724.7 1394 726.8 1395.6 728.9 1397.3 731 1399 733.2 1400.7 735.4 1402.3 737.6 1403.9 739.9 1405.5 742.2 1407.1 744.6 1408.7 747 1410.3 749.4 1411.9 751.9 1413.4 754.4 1414.9 757 1416.3 759.6 1417.6 762.3 1418.9 765 1420.1 767.8 1421.3 770.7 1422.5 773.6 1423.8 776.6 1425.1 779.6 1426.6 782.7 1428.1 785.9 1429.7 789.1 1431.3 792.5 1433.1 795.9 1435 799.4 1437.1 803 1439.6 806.7 1442.3 810.5 1444.9 814.5 1447.3 818.5 1449.2 822.7 1450.9 827 1452.5 831.4 1453.9 836 1455.4 840.7 1456.8 845.7 1458.2 850.8 1459.6 856.1 1461 861.6 1462.6 867.3 1464.2 873.4 1467.2 879.6 1470.6 886.2 1473.8 893.2 1477.5 900.5 1482.1 908.2 1482.3 916.4 1485 925.2 1485.3 934.5 1486.4 944.5 1490.9 955.3 1501.8 967.1 1516.5 980 1523.1 994.3 1532.4 1010.2 1539.1 1028.3 1568.7 1049.1 1594.3 1073.8 1605.6 1104 1619.6 1142.9 1631.6 1197.7 1716.7 1291.5" stroke-width="3.5"/>
</g>
<g><use href="#a" x="482.1" y="45.2"/><use href="#a" x="483.4" y="45.2"/><use href="#a" x="509.7" y="45.2"/><use href="#a" x="511.5" y="45.2"/><use href="#a" x="513.2" y="45.2"/><use href="#a" x="515" y="45.2"/><use href="#a" x="521.1" y="45.2"/><use href="#a" x="522.4" y="45.2"/><use href="#a" x="527" y="45.2"/><use href="#a" x="528.3" y="45.2"/><use href="#a" x="529.6" y="45.2"/><use href="#a" x="532" y="45.3"/><use href="#a" x="533.6" y="45.3"/><use href="#a" x="535.2" y="45.4"/><use href="#a" x="536.8" y="45.4"/><use href="#a" x="538.4" y="45.4"/><use href="#a" x="540" y="45.5"/><use href="#a" x="541.6" y="45.5"/><use href="#a" x="543.2" y="45.5"/><use href="#a" x="544.8" y="45.6"/><use href="#a" x="546.4" y="45.6"/><use href="#a" x="548" y="45.7"/><use href="#a" x="549.6" y="45.7"/><use href="#a" x="551.2" y="45.7"/><use href="#a" x="552.8" y="45.8"/><use href="#a" x="554.4" y="45.8"/><use href="#a" x="556" y="45.9"/><use href="#a" x="557.6" y="45.9"/><use href="#a" x="559.2" y="46"/><use href="#a" x="560.8" y="46"/><use href="#a" x="562.4" y="46.1"/><use href="#a" x="564" y="46.1"/><use href="#a" x="565.6" y="46.2"/><use href="#a" x="567.2" y="46.2"/><use href="#a" x="568.8" y="46.3"/><use href="#a" x="570.4" y="46.4"/><use href="#a" x="572" y="46.4"/><use href="#a" x="573.6" y="46.5"/><use href="#a" x="575.2" y="46.5"/><use href="#a" x="576.8" y="46.6"/><use href="#a" x="578.4" y="46.7"/><use href="#a" x="580" y="46.7"/><use href="#a" x="581.6" y="46.8"/><use href="#a" x="583.2" y="46.9"/><use href="#a" x="584.8" y="47"/><use href="#a" x="586.4" y="47"/><use href="#a" x="588" y="47.1"/><use href="#a" x="589.6" y="47.2"/><use href="#a" x="591.2" y="47.3"/><use href="#a" x="592.8" y="47.3"/><use href="#a" x="594.4" y="47.4"/><use href="#a" x="596" y="47.5"/><use href="#a" x="597.6" y="47.6"/><use href="#a" x="599.2" y="47.7"/><use href="#a" x="600.8" y="47.7"/><use href="#a" x="602.4" y="47.8"/><use href="#a" x="603.9" y="47.9"/><use href="#a" x="605.5" y="48"/><use href="#a" x="607.1" y="48.1"/><use href="#a" x="608.7" y="48.2"/><use href="#a" x="610.3" y="48.3"/><use href="#a" x="611.9" y="48.4"/><use href="#a" x="613.5" y="48.5"/><use href="#a" x="615.1" y="48.6"/><use href="#a" x="616.7" y="48.7"/><use href="#a" x="618.3" y="48.8"/><use href="#a" x="619.9" y="48.9"/><use href="#a" x="621.5" y="49"/><use href="#a" x="623.1" y="49.1"/><use href="#a" x="624.7" y="49.3"/><use href="#a" x="626.3" y="49.4"/><use href="#a" x="627.9" y="49.5"/><use href="#a" x="629.5" y="49.6"/><use href="#a" x="631.1" y="49.8"/><use href="#a" x="632.7" y="49.9"/><use href="#a" x="634.3" y="50"/><use href="#a" x="635.9" y="50.1"/><use href="#a" x="637.5" y="50.3"/><use href="#a" x="639.1" y="50.4"/><use href="#a" x="640.7" y="50.6"/><use href="#a" x="642.2" y="50.7"/><use href="#a" x="643.8" y="50.8"/><use href="#a" x="645.4" y="51"/><use href="#a" x="647" y="51.1"/><use href="#a" x="648.6" y="51.3"/><use href="#a" x="650.2" y="51.5"/><use href="#a" x="651.8" y="51.6"/><use href="#a" x="653.4" y="51.8"/><use href="#a" x="655" y="52"/><use href="#a" x="656.6" y="52.1"/><use href="#a" x="658.2" y="52.3"/><use href="#a" x="659.8" y="52.5"/><use href="#a" x="661.3" y="52.7"/><use href="#a" x="662.9" y="52.9"/><use href="#a" x="664.5" y="53.1"/><use href="#a" x="666.1" y="53.3"/><use href="#a" x="667.7" y="53.5"/><use href="#a" x="669.3" y="53.7"/><use href="#a" x="670.9" y="53.9"/><use href="#a" x="672.5" y="54.1"/><use href="#a" x="674" y="54.3"/><use href="#a" x="675.6" y="54.5"/><use href="#a" x="677.2" y="54.8"/><use href="#a" x="678.8" y="55"/><use href="#a" x="680.4" y="55.3"/><use href="#a" x="681.9" y="55.5"/><use href="#a" x="683.5" y="55.8"/><use href="#a" x="685.1" y="56"/><use href="#a" x="686.7" y="56.3"/><use href="#a" x="688.3" y="56.6"/><use href="#a" x="689.8" y="56.9"/><use href="#a" x="691.4" y="57.2"/><use href="#a" x="693" y="57.5"/><use href="#a" x="694.5" y="57.9"/><use href="#a" x="696.1" y="58.2"/><use href="#a" x="697.7" y="58.5"/><use href="#a" x="699.2" y="58.9"/><use href="#a" x="700.8" y="59.2"/><use href="#a" x="702.3" y="59.6"/><use href="#a" x="703.9" y="59.9"/><use href="#a" x="705.5" y="60.3"/><use href="#a" x="707" y="60.7"/><use href="#a" x="708.6" y="61.1"/><use href="#a" x="710.1" y="61.4"/><use href="#a" x="711.7" y="61.8"/><use href="#a" x="713.2" y="62.2"/><use href="#a" x="714.8" y="62.6"/><use href="#a" x="716.3" y="63"/><use href="#a" x="717.9" y="63.4"/><use href="#a" x="719.4" y="63.8"/><use href="#a" x="721" y="64.3"/><use href="#a" x="722.5" y="64.7"/><use href="#a" x="724" y="65.1"/><use href="#a" x="725.6" y="65.6"/><use href="#a" x="727.1" y="66"/><use href="#a" x="728.7" y="66.5"/><use href="#a" x="730.2" y="66.9"/><use href="#a" x="731.7" y="67.4"/><use href="#a" x="733.2" y="67.9"/><use href="#a" x="734.8" y="68.4"/><use href="#a" x="736.3" y="68.9"/><use href="#a" x="737.8" y="69.4"/><use href="#a" x="739.3" y="69.9"/><use href="#a" x="740.8" y="70.4"/><use href="#a" x="742.3" y="70.9"/><use href="#a" x="743.9" y="71.5"/><use href="#a" x="745.4" y="72"/><use href="#a" x="746.9" y="72.5"/><use href="#a" x="748.4" y="73.1"/><use href="#a" x="749.9" y="73.6"/><use href="#a" x="751.4" y="74.1"/><use href="#a" x="752.9" y="74.7"/><use href="#a" x="754.4" y="75.2"/><use href="#a" x="755.9" y="75.8"/><use href="#a" x="757.4" y="76.3"/><use href="#a" x="758.9" y="76.9"/><use href="#a" x="760.4" y="77.4"/><use href="#a" x="761.9" y="78"/><use href="#a" x="763.4" y="78.6"/><use href="#a" x="764.9" y="79.1"/><use href="#a" x="766.4" y="79.7"/><use href="#a" x="767.9" y="80.3"/><use href="#a" x="769.4" y="80.8"/><use href="#a" x="770.9" y="81.4"/><use href="#a" x="772.4" y="82"/><use href="#a" x="773.9" y="82.6"/><use href="#a" x="775.3" y="83.2"/><use href="#a" x="776.8" y="83.7"/><use href="#a" x="778.3" y="84.3"/><use href="#a" x="779.8" y="84.9"/><use href="#a" x="781.3" y="85.6"/><use href="#a" x="782.8" y="86.2"/><use href="#a" x="784.2" y="86.8"/><use href="#a" x="785.7" y="87.4"/><use href="#a" x="787.2" y="88"/><use href="#a" x="788.7" y="88.7"/><use href="#a" x="790.1" y="89.3"/><use href="#a" x="791.6" y="89.9"/><use href="#a" x="793" y="90.6"/><use href="#a" x="794.5" y="91.3"/><use href="#a" x="796" y="91.9"/><use href="#a" x="797.4" y="92.6"/><use href="#a" x="798.9" y="93.3"/><use href="#a" x="800.3" y="93.9"/><use href="#a" x="801.8" y="94.6"/><use href="#a" x="803.2" y="95.3"/><use href="#a" x="804.6" y="96.1"/><use href="#a" x="806" y="96.8"/><use href="#a" x="807.5" y="97.5"/><use href="#a" x="808.9" y="98.3"/><use href="#a" x="810.3" y="99"/><use href="#a" x="811.7" y="99.8"/><use href="#a" x="813.1" y="100.5"/><use href="#a" x="814.5" y="101.3"/><use href="#a" x="815.9" y="102.1"/><use href="#a" x="817.3" y="102.9"/><use href="#a" x="818.7" y="103.7"/><use href="#a" x="820.1" y="104.5"/><use href="#a" x="821.5" y="105.3"/><use href="#a" x="822.9" y="106.1"/><use href="#a" x="824.2" y="106.9"/><use href="#a" x="825.6" y="107.7"/><use href="#a" x="827" y="108.5"/><use href="#a" x="828.4" y="109.3"/><use href="#a" x="829.8" y="110.1"/><use href="#a" x="831.1" y="110.9"/><use href="#a" x="832.5" y="111.7"/><use href="#a" x="833.9" y="112.5"/><use href="#a" x="835.3" y="113.3"/><use href="#a" x="836.7" y="114.1"/><use href="#a" x="838.1" y="114.9"/><use href="#a" x="839.5" y="115.7"/><use href="#a" x="840.9" y="116.5"/><use href="#a" x="842.2" y="117.3"/><use href="#a" x="843.6" y="118.1"/><use href="#a" x="845" y="118.8"/><use href="#a" x="846.4" y="119.6"/><use href="#a" x="847.8" y="120.4"/><use href="#a" x="849.2" y="121.2"/><use href="#a" x="850.6" y="122"/><use href="#a" x="852" y="122.7"/><use href="#a" x="853.4" y="123.5"/><use href="#a" x="854.8" y="124.3"/><use href="#a" x="856.2" y="125.1"/><use href="#a" x="857.6" y="125.9"/><use href="#a" x="859" y="126.7"/><use href="#a" x="860.3" y="127.5"/><use href="#a" x="861.7" y="128.4"/><use href="#a" x="863.1" y="129.2"/><use href="#a" x="864.4" y="130"/><use href="#a" x="865.8" y="130.9"/><use href="#a" x="867.2" y="131.7"/><use href="#a" x="868.5" y="132.6"/><use href="#a" x="869.9" y="133.4"/><use href="#a" x="871.2" y="134.3"/><use href="#a" x="872.5" y="135.2"/><use href="#a" x="873.9" y="136.1"/><use href="#a" x="875.2" y="137"/><use href="#a" x="876.5" y="137.9"/><use href="#a" x="877.8" y="138.8"/><use href="#a" x="879.1" y="139.7"/><use href="#a" x="880.4" y="140.7"/><use href="#a" x="881.7" y="141.6"/><use href="#a" x="883" y="142.5"/><use href="#a" x="884.3" y="143.4"/><use href="#a" x="885.6" y="144.4"/><use href="#a" x="886.9" y="145.3"/><use href="#a" x="888.2" y="146.2"/><use href="#a" x="889.5" y="147.2"/><use href="#a" x="890.8" y="148.1"/><use href="#a" x="892.1" y="149.1"/><use href="#a" x="893.4" y="150"/><use href="#a" x="894.7" y="150.9"/><use href="#a" x="896" y="151.9"/><use href="#a" x="897.3" y="152.8"/><use href="#a" x="898.6" y="153.7"/><use href="#a" x="899.9" y="154.6"/><use href="#a" x="901.2" y="155.6"/><use href="#a" x="902.5" y="156.5"/><use href="#a" x="903.9" y="157.4"/><use href="#a" x="905.2" y="158.3"/><use href="#a" x="906.5" y="159.2"/><use href="#a" x="907.8" y="160.1"/><use href="#a" x="909.1" y="161.1"/><use href="#a" x="910.4" y="162"/><use href="#a" x="911.7" y="162.9"/><use href="#a" x="913" y="163.8"/><use href="#a" x="914.3" y="164.7"/><use href="#a" x="915.6" y="165.7"/><use href="#a" x="916.9" y="166.6"/><use href="#a" x="918.2" y="167.6"/><use href="#a" x="919.5" y="168.5"/><use href="#a" x="920.8" y="169.5"/><use href="#a" x="922" y="170.5"/><use href="#a" x="923.3" y="171.5"/><use href="#a" x="924.6" y="172.4"/><use href="#a" x="925.8" y="173.4"/><use href="#a" x="927.1" y="174.5"/><use href="#a" x="928.3" y="175.5"/><use href="#a" x="929.5" y="176.5"/><use href="#a" x="930.8" y="177.5"/><use href="#a" x="932" y="178.5"/><use href="#a" x="933.2" y="179.5"/><use href="#a" x="934.5" y="180.6"/><use href="#a" x="935.7" y="181.6"/><use href="#a" x="936.9" y="182.6"/><use href="#a" x="938.2" y="183.6"/><use href="#a" x="939.4" y="184.6"/><use href="#a" x="940.6" y="185.7"/><use href="#a" x="941.8" y="186.7"/><use href="#a" x="943.1" y="187.7"/><use href="#a" x="944.3" y="188.8"/><use href="#a" x="945.5" y="189.8"/><use href="#a" x="946.7" y="190.8"/><use href="#a" x="947.9" y="191.9"/><use href="#a" x="949.2" y="192.9"/><use href="#a" x="950.4" y="194"/><use href="#a" x="951.6" y="195"/><use href="#a" x="952.8" y="196"/><use href="#a" x="954" y="197.1"/><use href="#a" x="955.2" y="198.1"/><use href="#a" x="956.4" y="199.2"/><use href="#a" x="957.6" y="200.2"/><use href="#a" x="958.9" y="201.3"/><use href="#a" x="960.1" y="202.3"/><use href="#a" x="961.3" y="203.4"/><use href="#a" x="962.5" y="204.4"/><use href="#a" x="963.7" y="205.5"/><use href="#a" x="964.9" y="206.5"/><use href="#a" x="966.1" y="207.5"/><use href="#a" x="967.3" y="208.6"/><use href="#a" x="968.5" y="209.6"/><use href="#a" x="969.7" y="210.7"/><use href="#a" x="971" y="211.7"/><use href="#a" x="972.2" y="212.8"/><use href="#a" x="973.4" y="213.8"/><use href="#a" x="974.6" y="214.9"/><use href="#a" x="975.8" y="215.9"/><use href="#a" x="977" y="216.9"/><use href="#a" x="978.2" y="218"/><use href="#a" x="979.5" y="219"/><use href="#a" x="980.7" y="220.1"/><use href="#a" x="981.9" y="221.1"/><use href="#a" x="983.1" y="222.1"/><use href="#a" x="984.3" y="223.2"/><use href="#a" x="985.6" y="224.2"/><use href="#a" x="986.8" y="225.2"/><use href="#a" x="988" y="226.3"/><use href="#a" x="989.2" y="227.3"/><use href="#a" x="990.4" y="228.4"/><use href="#a" x="991.6" y="229.4"/><use href="#a" x="992.8" y="230.5"/><use href="#a" x="994" y="231.5"/><use href="#a" x="995.3" y="232.6"/><use href="#a" x="996.5" y="233.6"/><use href="#a" x="997.7" y="234.7"/><use href="#a" x="998.9" y="235.7"/><use href="#a" x="1000.1" y="236.8"/><use href="#a" x="1001.3" y="237.8"/><use href="#a" x="1002.5" y="238.9"/><use href="#a" x="1003.7" y="240"/><use href="#a" x="1004.8" y="241"/><use href="#a" x="1006" y="242.1"/><use href="#a" x="1007.2" y="243.2"/><use href="#a" x="1008.4" y="244.3"/><use href="#a" x="1009.6" y="245.4"/><use href="#a" x="1010.7" y="246.4"/><use href="#a" x="1011.9" y="247.5"/><use href="#a" x="1013.1" y="248.6"/><use href="#a" x="1014.2" y="249.7"/><use href="#a" x="1015.4" y="250.9"/><use href="#a" x="1016.5" y="252"/><use href="#a" x="1017.7" y="253.1"/><use href="#a" x="1018.8" y="254.2"/><use href="#a" x="1020" y="255.3"/><use href="#a" x="1021.1" y="256.4"/><use href="#a" x="1022.2" y="257.6"/><use href="#a" x="1023.4" y="258.7"/><use href="#a" x="1024.5" y="259.8"/><use href="#a" x="1025.6" y="261"/><use href="#a" x="1026.8" y="262.1"/><use href="#a" x="1027.9" y="263.2"/><use href="#a" x="1029" y="264.4"/><use href="#a" x="1030.1" y="265.5"/><use href="#a" x="1031.3" y="266.6"/><use href="#a" x="1032.4" y="267.8"/><use href="#a" x="1033.5" y="268.9"/><use href="#a" x="1034.6" y="270.1"/><use href="#a" x="1035.7" y="271.2"/><use href="#a" x="1036.8" y="272.4"/><use href="#a" x="1038" y="273.5"/><use href="#a" x="1039.1" y="274.7"/><use href="#a" x="1040.2" y="275.8"/><use href="#a" x="1041.3" y="277"/><use href="#a" x="1042.4" y="278.1"/><use href="#a" x="1043.5" y="279.3"/><use href="#a" x="1044.6" y="280.4"/><use href="#a" x="1045.7" y="281.6"/><use href="#a" x="1046.9" y="282.7"/><use href="#a" x="1048" y="283.9"/><use href="#a" x="1049.1" y="285"/><use href="#a" x="1050.2" y="286.2"/><use href="#a" x="1051.3" y="287.3"/><use href="#a" x="1052.4" y="288.5"/><use href="#a" x="1053.5" y="289.6"/><use href="#a" x="1054.6" y="290.8"/><use href="#a" x="1055.8" y="291.9"/><use href="#a" x="1056.9" y="293.1"/><use href="#a" x="1058" y="294.2"/><use href="#a" x="1059.1" y="295.4"/><use href="#a" x="1060.2" y="296.6"/><use href="#a" x="1061.3" y="297.7"/><use href="#a" x="1062.4" y="298.9"/><use href="#a" x="1063.5" y="300"/><use href="#a" x="1064.6" y="301.2"/><use href="#a" x="1065.7" y="302.4"/><use href="#a" x="1066.8" y="303.5"/><use href="#a" x="1067.9" y="304.7"/><use href="#a" x="1069" y="305.9"/><use href="#a" x="1070.1" y="307"/><use href="#a" x="1071.2" y="308.2"/><use href="#a" x="1072.2" y="309.4"/><use href="#a" x="1073.3" y="310.5"/><use href="#a" x="1074.4" y="311.7"/><use href="#a" x="1075.5" y="312.9"/><use href="#a" x="1076.6" y="314"/><use href="#a" x="1077.7" y="315.2"/><use href="#a" x="1078.8" y="316.3"/><use href="#a" x="1079.9" y="317.5"/><use href="#a" x="1081" y="318.7"/><use href="#a" x="1082.1" y="319.8"/><use href="#a" x="1083.2" y="321"/><use href="#a" x="1084.4" y="322.1"/><use href="#a" x="1085.5" y="323.3"/><use href="#a" x="1086.6" y="324.4"/><use href="#a" x="1087.7" y="325.6"/><use href="#a" x="1088.8" y="326.7"/><use href="#a" x="1089.9" y="327.9"/><use href="#a" x="1091" y="329"/><use href="#a" x="1092.2" y="330.2"/><use href="#a" x="1093.3" y="331.3"/><use href="#a" x="1094.4" y="332.4"/><use href="#a" x="1095.6" y="333.6"/><use href="#a" x="1096.7" y="334.7"/><use href="#a" x="1097.8" y="335.8"/><use href="#a" x="1099" y="336.9"/><use href="#a" x="1100.1" y="338"/><use href="#a" x="1101.3" y="339.2"/><use href="#a" x="1102.4" y="340.3"/><use href="#a" x="1103.6" y="341.4"/><use href="#a" x="1104.7" y="342.5"/><use href="#a" x="1105.8" y="343.6"/><use href="#a" x="1107" y="344.8"/><use href="#a" x="1108.1" y="345.9"/><use href="#a" x="1109.2" y="347.1"/><use href="#a" x="1110.3" y="348.2"/><use href="#a" x="1111.4" y="349.4"/><use href="#a" x="1112.5" y="350.5"/><use href="#a" x="1113.6" y="351.7"/><use href="#a" x="1114.7" y="352.9"/><use href="#a" x="1115.7" y="354.1"/><use href="#a" x="1116.8" y="355.3"/><use href="#a" x="1117.9" y="356.5"/><use href="#a" x="1118.9" y="357.7"/><use href="#a" x="1120" y="358.9"/><use href="#a" x="1121" y="360.1"/><use href="#a" x="1122.1" y="361.3"/><use href="#a" x="1123.1" y="362.5"/><use href="#a" x="1124.2" y="363.7"/><use href="#a" x="1125.2" y="364.9"/><use href="#a" x="1126.2" y="366.2"/><use href="#a" x="1127.3" y="367.4"/><use href="#a" x="1128.3" y="368.6"/><use href="#a" x="1129.3" y="369.8"/><use href="#a" x="1130.4" y="371.1"/><use href="#a" x="1131.4" y="372.3"/><use href="#a" x="1132.4" y="373.5"/><use href="#a" x="1133.5" y="374.7"/><use href="#a" x="1134.5" y="375.9"/><use href="#a" x="1135.5" y="377.2"/><use href="#a" x="1136.6" y="378.4"/><use href="#a" x="1137.6" y="379.6"/><use href="#a" x="1138.7" y="380.8"/><use href="#a" x="1139.7" y="382"/><use href="#a" x="1140.8" y="383.2"/><use href="#a" x="1141.8" y="384.4"/><use href="#a" x="1142.9" y="385.6"/><use href="#a" x="1144" y="386.8"/><use href="#a" x="1145" y="388"/><use href="#a" x="1146.1" y="389.2"/><use href="#a" x="1147.1" y="390.4"/><use href="#a" x="1148.2" y="391.6"/><use href="#a" x="1149.2" y="392.8"/><use href="#a" x="1150.3" y="394"/><use href="#a" x="1151.3" y="395.2"/><use href="#a" x="1152.4" y="396.5"/><use href="#a" x="1153.4" y="397.7"/><use href="#a" x="1154.4" y="398.9"/><use href="#a" x="1155.4" y="400.2"/><use href="#a" x="1156.4" y="401.4"/><use href="#a" x="1157.4" y="402.6"/><use href="#a" x="1158.4" y="403.9"/><use href="#a" x="1159.4" y="405.1"/><use href="#a" x="1160.4" y="406.4"/><use href="#a" x="1161.4" y="407.7"/><use href="#a" x="1162.4" y="408.9"/><use href="#a" x="1163.3" y="410.2"/><use href="#a" x="1164.3" y="411.5"/><use href="#a" x="1165.3" y="412.8"/><use href="#a" x="1166.2" y="414"/><use href="#a" x="1167.2" y="415.3"/><use href="#a" x="1168.1" y="416.6"/><use href="#a" x="1169.1" y="417.9"/><use href="#a" x="1170" y="419.2"/><use href="#a" x="1171" y="420.5"/><use href="#a" x="1171.9" y="421.8"/><use href="#a" x="1172.8" y="423.1"/><use href="#a" x="1173.7" y="424.5"/><use href="#a" x="1174.6" y="425.8"/><use href="#a" x="1175.4" y="427.1"/><use href="#a" x="1176.3" y="428.5"/><use href="#a" x="1177.2" y="429.8"/><use href="#a" x="1178.1" y="431.1"/><use href="#a" x="1178.9" y="432.5"/><use href="#a" x="1179.8" y="433.8"/><use href="#a" x="1180.7" y="435.2"/><use href="#a" x="1181.6" y="436.5"/><use href="#a" x="1182.5" y="437.8"/><use href="#a" x="1183.4" y="439.1"/><use href="#a" x="1184.3" y="440.4"/><use href="#a" x="1185.2" y="441.7"/><use href="#a" x="1186.2" y="443"/><use href="#a" x="1187.1" y="444.3"/><use href="#a" x="1188.1" y="445.6"/><use href="#a" x="1189.1" y="446.9"/><use href="#a" x="1190" y="448.1"/><use href="#a" x="1191" y="449.4"/><use href="#a" x="1192" y="450.7"/><use href="#a" x="1192.9" y="452"/><use href="#a" x="1193.9" y="453.2"/><use href="#a" x="1194.9" y="454.5"/><use href="#a" x="1195.9" y="455.8"/><use href="#a" x="1196.8" y="457.1"/><use href="#a" x="1197.8" y="458.3"/><use href="#a" x="1198.7" y="459.6"/><use href="#a" x="1199.7" y="460.9"/><use href="#a" x="1200.6" y="462.2"/><use href="#a" x="1201.5" y="463.5"/><use href="#a" x="1202.5" y="464.8"/><use href="#a" x="1203.4" y="466.1"/><use href="#a" x="1204.3" y="467.4"/><use href="#a" x="1205.2" y="468.7"/><use href="#a" x="1206.2" y="470"/><use href="#a" x="1207.1" y="471.3"/><use href="#a" x="1208" y="472.7"/><use href="#a" x="1208.9" y="474"/><use href="#a" x="1209.9" y="475.3"/><use href="#a" x="1210.8" y="476.6"/><use href="#a" x="1211.7" y="477.9"/><use href="#a" x="1212.7" y="479.2"/><use href="#a" x="1213.6" y="480.4"/><use href="#a" x="1214.6" y="481.7"/><use href="#a" x="1215.5" y="483"/><use href="#a" x="1216.5" y="484.3"/><use href="#a" x="1217.4" y="485.6"/><use href="#a" x="1218.4" y="486.9"/><use href="#a" x="1219.3" y="488.2"/><use href="#a" x="1220.3" y="489.4"/><use href="#a" x="1221.3" y="490.7"/><use href="#a" x="1222.2" y="492"/><use href="#a" x="1223.2" y="493.3"/><use href="#a" x="1224.2" y="494.5"/><use href="#a" x="1225.1" y="495.8"/><use href="#a" x="1226.1" y="497.1"/><use href="#a" x="1227.1" y="498.3"/><use href="#a" x="1228.1" y="499.6"/><use href="#a" x="1229.1" y="500.8"/><use href="#a" x="1230.1" y="502.1"/><use href="#a" x="1231.1" y="503.3"/><use href="#a" x="1232.1" y="504.5"/><use href="#a" x="1233.2" y="505.8"/><use href="#a" x="1234.2" y="507"/><use href="#a" x="1235.3" y="508.2"/><use href="#a" x="1236.3" y="509.4"/><use href="#a" x="1237.4" y="510.6"/><use href="#a" x="1238.4" y="511.8"/><use href="#a" x="1239.5" y="513"/><use href="#a" x="1240.5" y="514.3"/><use href="#a" x="1241.5" y="515.5"/><use href="#a" x="1242.5" y="516.7"/><use href="#a" x="1243.5" y="518"/><use href="#a" x="1244.5" y="519.3"/><use href="#a" x="1245.4" y="520.6"/><use href="#a" x="1246.3" y="521.9"/><use href="#a" x="1247.2" y="523.2"/><use href="#a" x="1248.1" y="524.5"/><use href="#a" x="1248.9" y="525.9"/><use href="#a" x="1249.8" y="527.3"/><use href="#a" x="1250.6" y="528.6"/><use href="#a" x="1251.4" y="530"/><use href="#a" x="1252.3" y="531.4"/><use href="#a" x="1253.1" y="532.7"/><use href="#a" x="1253.9" y="534.1"/><use href="#a" x="1254.8" y="535.4"/><use href="#a" x="1255.7" y="536.8"/><use href="#a" x="1256.6" y="538.1"/><use href="#a" x="1257.5" y="539.4"/><use href="#a" x="1258.5" y="540.7"/><use href="#a" x="1259.5" y="541.9"/><use href="#a" x="1260.6" y="543.1"/><use href="#a" x="1261.6" y="544.3"/><use href="#a" x="1262.7" y="545.5"/><use href="#a" x="1263.8" y="546.6"/><use href="#a" x="1264.9" y="547.8"/><use href="#a" x="1266.1" y="548.9"/><use href="#a" x="1267.2" y="550"/><use href="#a" x="1268.3" y="551.2"/><use href="#a" x="1269.4" y="552.3"/><use href="#a" x="1270.6" y="553.5"/><use href="#a" x="1271.6" y="554.6"/><use href="#a" x="1272.7" y="555.8"/><use href="#a" x="1273.7" y="557.1"/><use href="#a" x="1274.7" y="558.3"/><use href="#a" x="1275.7" y="559.6"/><use href="#a" x="1276.6" y="560.9"/><use href="#a" x="1277.5" y="562.2"/><use href="#a" x="1278.3" y="563.6"/><use href="#a" x="1279.2" y="565"/><use href="#a" x="1280" y="566.4"/><use href="#a" x="1280.7" y="567.7"/><use href="#a" x="1281.5" y="569.2"/><use href="#a" x="1282.3" y="570.6"/><use href="#a" x="1283" y="572"/><use href="#a" x="1283.8" y="573.4"/><use href="#a" x="1284.5" y="574.8"/><use href="#a" x="1285.2" y="576.2"/><use href="#a" x="1286" y="577.6"/><use href="#a" x="1286.8" y="579"/><use href="#a" x="1287.5" y="580.4"/><use href="#a" x="1288.3" y="581.8"/><use href="#a" x="1289.1" y="583.2"/><use href="#a" x="1289.9" y="584.6"/><use href="#a" x="1290.6" y="586.1"/><use href="#a" x="1291.4" y="587.5"/><use href="#a" x="1292.1" y="588.9"/><use href="#a" x="1292.9" y="590.3"/><use href="#a" x="1293.7" y="591.7"/><use href="#a" x="1294.4" y="593.1"/><use href="#a" x="1295.2" y="594.5"/><use href="#a" x="1296" y="595.9"/><use href="#a" x="1296.9" y="597.2"/><use href="#a" x="1297.7" y="598.6"/><use href="#a" x="1298.6" y="599.9"/><use href="#a" x="1299.4" y="601.3"/><use href="#a" x="1300.3" y="602.6"/><use href="#a" x="1301.3" y="603.9"/><use href="#a" x="1302.2" y="605.2"/><use href="#a" x="1303.1" y="606.5"/><use href="#a" x="1304.1" y="607.8"/><use href="#a" x="1305.1" y="609.1"/><use href="#a" x="1306" y="610.3"/><use href="#a" x="1307" y="611.6"/><use href="#a" x="1308" y="612.8"/><use href="#a" x="1309" y="614.1"/><use href="#a" x="1310.1" y="615.3"/><use href="#a" x="1311.1" y="616.5"/><use href="#a" x="1312.1" y="617.8"/><use href="#a" x="1313.1" y="619"/><use href="#a" x="1314.2" y="620.2"/><use href="#a" x="1315.2" y="621.4"/><use href="#a" x="1316.3" y="622.6"/><use href="#a" x="1317.4" y="623.8"/><use href="#a" x="1318.4" y="625"/><use href="#a" x="1319.5" y="626.1"/><use href="#a" x="1320.6" y="627.3"/><use href="#a" x="1321.7" y="628.5"/><use href="#a" x="1322.9" y="629.6"/><use href="#a" x="1324" y="630.7"/><use href="#a" x="1325.1" y="631.9"/><use href="#a" x="1326.2" y="633"/><use href="#a" x="1327.3" y="634.2"/><use href="#a" x="1328.5" y="635.3"/><use href="#a" x="1329.6" y="636.5"/><use href="#a" x="1330.7" y="637.6"/><use href="#a" x="1331.8" y="638.8"/><use href="#a" x="1332.9" y="639.9"/><use href="#a" x="1334" y="641.1"/><use href="#a" x="1335.2" y="642.2"/><use href="#a" x="1336.3" y="643.3"/><use href="#a" x="1337.4" y="644.4"/><use href="#a" x="1338.6" y="645.5"/><use href="#a" x="1339.8" y="646.6"/><use href="#a" x="1340.9" y="647.8"/><use href="#a" x="1342.1" y="648.9"/><use href="#a" x="1343.2" y="650"/><use href="#a" x="1344.3" y="651.1"/><use href="#a" x="1345.5" y="652.2"/><use href="#a" x="1346.6" y="653.4"/><use href="#a" x="1347.7" y="654.6"/><use href="#a" x="1348.7" y="655.8"/><use href="#a" x="1349.7" y="657"/><use href="#a" x="1350.7" y="658.3"/><use href="#a" x="1351.7" y="659.5"/><use href="#a" x="1352.6" y="660.9"/><use href="#a" x="1353.4" y="662.2"/><use href="#a" x="1354.2" y="663.6"/><use href="#a" x="1355" y="665"/><use href="#a" x="1355.7" y="666.5"/><use href="#a" x="1356.4" y="667.9"/><use href="#a" x="1356.7" y="668.5"/><use href="#a" x="1357.4" y="669.9"/><use href="#a" x="1358" y="671.3"/><use href="#a" x="1358.7" y="672.7"/><use href="#a" x="1359.3" y="674.1"/><use href="#a" x="1360" y="675.5"/><use href="#a" x="1360.8" y="676.9"/><use href="#a" x="1361.5" y="678.4"/><use href="#a" x="1362.4" y="679.8"/><use href="#a" x="1363.3" y="681.3"/><use href="#a" x="1364.3" y="682.8"/><use href="#a" x="1365.4" y="684.3"/><use href="#a" x="1366.5" y="685.8"/><use href="#a" x="1367.6" y="687.4"/><use href="#a" x="1368.8" y="688.9"/><use href="#a" x="1370" y="690.5"/><use href="#a" x="1371.3" y="692.1"/><use href="#a" x="1372.5" y="693.7"/><use href="#a" x="1373.7" y="695.4"/><use href="#a" x="1375" y="697"/><use href="#a" x="1376.1" y="698.7"/><use href="#a" x="1377.3" y="700.4"/><use href="#a" x="1378.4" y="702.1"/><use href="#a" x="1379.4" y="703.9"/><use href="#a" x="1380.5" y="705.7"/><use href="#a" x="1381.5" y="707.5"/><use href="#a" x="1382.6" y="709.3"/><use href="#a" x="1383.6" y="711.1"/><use href="#a" x="1384.7" y="713"/><use href="#a" x="1385.8" y="714.9"/><use href="#a" x="1386.9" y="716.8"/><use href="#a" x="1388.2" y="718.7"/><use href="#a" x="1389.5" y="720.7"/><use href="#a" x="1390.9" y="722.7"/><use href="#a" x="1392.4" y="724.7"/><use href="#a" x="1394" y="726.8"/><use href="#a" x="1395.6" y="728.9"/><use href="#a" x="1397.3" y="731"/><use href="#a" x="1399" y="733.2"/><use href="#a" x="1400.7" y="735.4"/><use href="#a" x="1402.3" y="737.6"/><use href="#a" x="1403.9" y="739.9"/><use href="#a" x="1405.5" y="742.2"/><use href="#a" x="1407.1" y="744.6"/><use href="#a" x="1408.7" y="747"/><use href="#a" x="1410.3" y="749.4"/><use href="#a" x="1411.9" y="751.9"/><use href="#a" x="1413.4" y="754.4"/><use href="#a" x="1414.9" y="757"/><use href="#a" x="1416.3" y="759.6"/><use href="#a" x="1417.6" y="762.3"/><use href="#a" x="1418.9" y="765"/><use href="#a" x="1420.1" y="767.8"/><use href="#a" x="1421.3" y="770.7"/><use href="#a" x="1422.5" y="773.6"/><use href="#a" x="1423.8" y="776.6"/><use href="#a" x="1425.1" y="779.6"/><use href="#a" x="1426.6" y="782.7"/><use href="#a" x="1428.1" y="785.9"/><use href="#a" x="1429.7" y="789.1"/><use href="#a" x="1431.3" y="792.5"/><use href="#a" x="1433.1" y="795.9"/><use href="#a" x="1435" y="799.4"/><use href="#a" x="1437.1" y="803"/><use href="#a" x="1439.6" y="806.7"/><use href="#a" x="1442.3" y="810.5"/><use href="#a" x="1444.9" y="814.5"/><use href="#a" x="1447.3" y="818.5"/><use href="#a" x="1449.2" y="822.7"/><use href="#a" x="1450.9" y="827"/><use href="#a" x="1452.5" y="831.4"/><use href="#a" x="1453.9" y="836"/><use href="#a" x="1455.4" y="840.7"/><use href="#a" x="1456.8" y="845.7"/><use href="#a" x="1458.2" y="850.8"/><use href="#a" x="1459.6" y="856.1"/><use href="#a" x="1461" y="861.6"/><use href="#a" x="1462.6" y="867.3"/><use href="#a" x="1464.2" y="873.4"/><use href="#a" x="1467.2" y="879.6"/><use href="#a" x="1470.6" y="886.2"/><use href="#a" x="1473.8" y="893.2"/><use href="#a" x="1477.5" y="900.5"/><use href="#a" x="1482.1" y="908.2"/><use href="#a" x="1482.3" y="916.4"/><use href="#a" x="1485" y="925.2"/><use href="#a" x="1485.3" y="934.5"/><use href="#a" x="1486.4" y="944.5"/><use href="#a" x="1490.9" y="955.3"/><use href="#a" x="1501.8" y="967.1"/><use href="#a" x="1516.5" y="980"/><use href="#a" x="1523.1" y="994.3"/><use href="#a" x="1532.4" y="1010.2"/><use href="#a" x="1539.1" y="1028.3"/><use href="#a" x="1568.7" y="1049.1"/><use href="#a" x="1594.3" y="1073.8"/><use href="#a" x="1605.6" y="1104"/><use href="#a" x="1619.6" y="1142.9"/><use href="#a" x="1631.6" y="1197.7"/><use href="#a" x="1716.7" y="1291.5"/></g>
<rect x="1153.9" y="83.9" width="635.2" height="152.9" fill="#fff" stroke="#262626" stroke-width="5.7"/>
<g fill="none" stroke-width="3">
<path d="M1167 125.4H1317" stroke="#0ff"/><circle cx="1241.9" cy="125.4" r="14.8" stroke="#0ff" stroke-width="3.3"/>
<path d="M1167 195.6H1317" stroke="#f00"/>
<path d="M1225.5 195.6h32.8M1241.9 179.2v32.8M1230.9 184.6l22 22M1230.9 206.6l22 -22" stroke="#f00" stroke-width="3.2"/>
</g>
<text transform="translate(1336.6 148.9) scale(1 1.02)" font-size="53" fill="#000">Proposed Method</text>
<text transform="translate(1336.6 218.5) scale(1 1.02)" font-size="53" fill="#000" xml:space="preserve">  OFDM-based</text>
<g fill="#262626">
<text transform="translate(199.7 82.7) scale(1 1.04)" font-size="65" text-anchor="end">10</text>
<text transform="translate(219.8 53.4) scale(1 1.04)" font-size="48" text-anchor="end">0</text>
<text transform="translate(181.8 394.9) scale(1 1.04)" font-size="65" text-anchor="end">10</text>
<text transform="translate(219.8 366.7) scale(1 1.04)" font-size="48" text-anchor="end">-1</text>
<text transform="translate(181.8 707.6) scale(1 1.04)" font-size="65" text-anchor="end">10</text>
<text transform="translate(219.8 679.6) scale(1 1.04)" font-size="48" text-anchor="end">-2</text>
<text transform="translate(181.8 1017.9) scale(1 1.04)" font-size="65" text-anchor="end">10</text>
<text transform="translate(219.8 988.6) scale(1 1.04)" font-size="48" text-anchor="end">-3</text>
<text transform="translate(181.8 1331.0) scale(1 1.04)" font-size="65" text-anchor="end">10</text>
<text transform="translate(219.8 1301.9) scale(1 1.04)" font-size="48" text-anchor="end">-4</text>
<text transform="translate(228.7 1375.8) scale(1 1.04)" font-size="48">8</text>
<text transform="translate(548.4 1375.8) scale(1 1.04)" font-size="48">9</text>
<text transform="translate(859.2 1375.8) scale(1 1.04)" font-size="48">10</text>
<text transform="translate(1180.0 1375.8) scale(1 1.04)" font-size="48">11</text>
<text transform="translate(1497.6 1375.8) scale(1 1.04)" font-size="48">12</text>
<text transform="translate(1818.3 1375.8) scale(1 1.04)" font-size="48">13</text>
<text transform="translate(909.6 1466.7) scale(1 1.04)" font-size="65">PAPR(dB)</text>
<text transform="translate(68.9 747.8) rotate(-90) scale(1 1.04)" font-size="65">CCDF</text>
</g>
</svg>
</body></html>
